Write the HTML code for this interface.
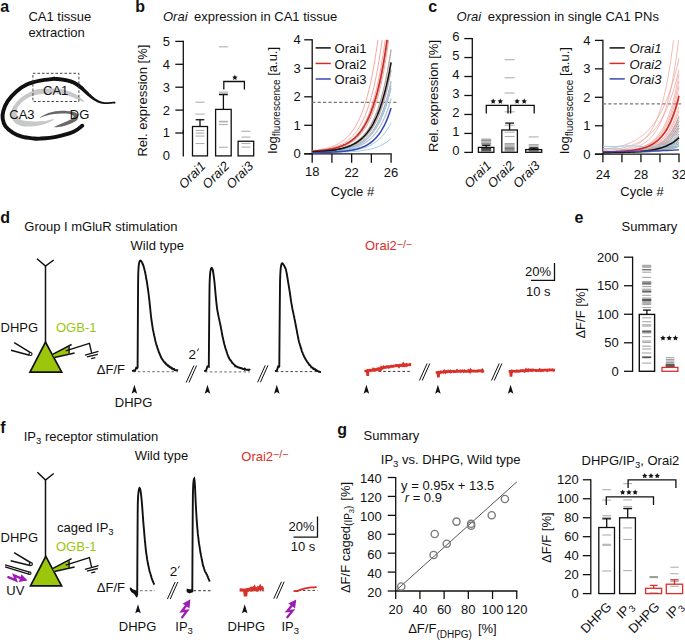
<!DOCTYPE html>
<html><head><meta charset="utf-8"><style>
html,body{margin:0;padding:0;background:#fff;}
svg{display:block;font-family:"Liberation Sans",sans-serif;}
</style></head><body>
<svg width="685" height="640" viewBox="0 0 685 640" font-size="13" fill="#111111" stroke-linecap="butt">
<text x="0.3" y="11.8" font-size="16" font-weight="bold">a</text>
<text x="28.4" y="21.3">CA1 tissue</text>
<text x="28.4" y="37.1">extraction</text>
<path d="M84.1,102 C85.28,101.78 80.02,96.93 77.1,95 C74.18,93.07 69.87,91.48 66.6,90.4 C63.33,89.32 61.93,88.75 57.5,88.5 C53.07,88.25 43.93,88.6 40,88.9 C36.07,89.2 36.82,89.05 33.9,90.3 C30.98,91.55 25.57,94.22 22.5,96.4 C19.43,98.58 17.25,101.22 15.5,103.4 C13.75,105.58 12.65,107.47 12,109.5 C11.35,111.53 11.3,113.55 11.6,115.6 C11.9,117.65 12.42,120.13 13.8,121.8 C15.18,123.47 17.57,124.8 19.9,125.6 C22.23,126.4 24.45,126.67 27.8,126.6 C31.15,126.53 36.5,125.9 40,125.2 C43.5,124.5 46.47,123.45 48.8,122.4 C51.13,121.35 54.73,119.12 54,118.9 C53.27,118.68 47.47,120.67 44.4,121.1 C41.33,121.53 38.52,121.5 35.6,121.5 C32.68,121.5 29.42,121.43 26.9,121.1 C24.38,120.77 22.15,120.52 20.5,119.5 C18.85,118.48 17.62,116.67 17,115 C16.38,113.33 16.17,111.43 16.8,109.5 C17.43,107.57 18.97,105.3 20.8,103.4 C22.63,101.5 25.62,99.42 27.8,98.1 C29.98,96.78 31.13,96.22 33.9,95.5 C36.67,94.78 40.47,94.08 44.4,93.8 C48.33,93.52 53.23,93.38 57.5,93.8 C61.77,94.22 65.57,94.93 70,96.3 C74.43,97.67 82.92,102.22 84.1,102 Z" stroke="none" stroke-width="0" fill="#c8c8c8"/>
<path d="M39.4,117.9 C39.23,117.68 42.9,115.48 45,114.5 C47.1,113.52 49.65,112.58 52,112 C54.35,111.42 56.6,111.17 59.1,111 C61.6,110.83 64.52,110.83 67,111 C69.48,111.17 72.25,111.45 74,112 C75.75,112.55 76.83,113.38 77.5,114.3 C78.17,115.22 78.17,116.47 78,117.5 C77.83,118.53 77.67,119.5 76.5,120.5 C75.33,121.5 73.08,122.58 71,123.5 C68.92,124.42 66.33,125.38 64,126 C61.67,126.62 58.62,127.03 57,127.2 C55.38,127.37 53.8,127.48 54.3,127 C54.8,126.52 57.88,125.25 60,124.3 C62.12,123.35 64.92,122.32 67,121.3 C69.08,120.28 71.42,119.08 72.5,118.2 C73.58,117.32 73.92,116.7 73.5,116 C73.08,115.3 71.92,114.43 70,114 C68.08,113.57 64.67,113.4 62,113.4 C59.33,113.4 56.67,113.6 54,114 C51.33,114.4 48.43,115.15 46,115.8 C43.57,116.45 39.57,118.12 39.4,117.9 Z" stroke="none" stroke-width="0" fill="#686868"/>
<path d="M82.3,125.7 C80.85,126.72 77.98,129.95 73.6,131.8 C69.22,133.65 61.6,135.67 56,136.8 C50.4,137.93 43.87,138.33 40,138.6 C36.13,138.87 35.82,138.72 32.8,138.4 C29.78,138.08 25.18,137.62 21.9,136.7 C18.62,135.78 15.83,134.62 13.1,132.9 C10.37,131.18 7.23,128.77 5.5,126.4 C3.77,124.03 3.07,121.25 2.7,118.7 C2.33,116.15 2.47,114.02 3.3,111.1 C4.13,108.18 5.52,104.48 7.7,101.2 C9.88,97.92 13.13,94.22 16.4,91.4 C19.67,88.58 23.37,86.1 27.3,84.3 C31.23,82.5 35.5,81.52 40,80.6 C44.5,79.68 51.92,79.1 54.3,78.8" stroke="#111111" stroke-width="3.9" fill="none" stroke-linecap="round"/>
<path d="M54.16,80.74 L55.17,80.82 L56.15,80.9 L57.1,80.98 L58.02,81.06 L58.92,81.15 L59.78,81.24 L60.62,81.34 L61.44,81.44 L62.23,81.54 L62.99,81.65 L63.73,81.77 L64.45,81.89 L65.15,82.02 L65.83,82.15 L66.49,82.29 L67.12,82.43 L67.75,82.59 L68.35,82.75 L68.94,82.92 L69.51,83.09 L70.07,83.27 L70.62,83.47 L71.15,83.67 L71.68,83.88 L72.19,84.1 L72.7,84.32 L73.2,84.56 L73.69,84.81 L74.18,85.08 L74.66,85.35 L75.15,85.63 L75.62,85.93 L76.1,86.24 L76.58,86.57 L77.06,86.91 L77.55,87.26 L78.03,87.63 L78.52,88.02 L79.01,88.42 L79.52,88.83 L80.04,89.24 L80.57,89.67 L81.11,90.12 L81.65,90.57 L82.2,91.04 L82.75,91.51 L83.3,92 L83.86,92.48 L84.41,92.97 L84.97,93.47 L85.53,93.96 L86.08,94.45 L86.64,94.93 L87.2,95.41 L87.75,95.89 L88.3,96.35 L88.84,96.8 L89.39,97.24 L89.93,97.67 L90.46,98.08 L90.99,98.48 L91.52,98.86 L92.03,99.22 L92.54,99.56 L93.04,99.9 L93.53,100.22 L94.02,100.52 L94.5,100.81 L94.97,101.08 L95.44,101.34 L95.91,101.59 L96.36,101.82 L96.82,102.03 L97.26,102.23 L97.7,102.42 L98.14,102.6 L98.57,102.76 L98.99,102.91 L99.41,103.05 L99.83,103.18 L100.23,103.29 L100.64,103.4 L101.04,103.49 L101.43,103.57 L101.82,103.65 L102.2,103.71 L102.58,103.77 L102.96,103.81 L103.34,103.85 L103.71,103.89 L104.07,103.93 L104.44,103.95 L104.8,103.98 L105.17,103.99 L105.53,104 L105.89,104 L106.25,104 L106.61,104 L106.97,103.99 L107.33,103.97 L107.69,103.95 L108.05,103.93 L108.41,103.91 L108.78,103.88 L109.15,103.85 L109.52,103.82 L109.89,103.79 L110.27,103.76 L110.65,103.73 L111.03,103.69 L111.42,103.66 L111.81,103.63 L112.21,103.6 L112.61,103.57 L113.02,103.54 L113.44,103.51 L113.86,103.49 L114.29,103.47 L114.73,103.45 L114.67,101.75 L114.22,101.77 L113.78,101.78 L113.34,101.81 L112.92,101.83 L112.5,101.85 L112.09,101.88 L111.68,101.91 L111.28,101.94 L110.89,101.97 L110.5,102 L110.13,102.03 L109.75,102.06 L109.38,102.08 L109.02,102.11 L108.66,102.13 L108.3,102.16 L107.95,102.18 L107.6,102.19 L107.26,102.21 L106.91,102.22 L106.58,102.23 L106.24,102.23 L105.9,102.23 L105.57,102.22 L105.24,102.21 L104.9,102.19 L104.57,102.17 L104.24,102.14 L103.91,102.1 L103.57,102.06 L103.24,101.99 L102.9,101.92 L102.57,101.85 L102.23,101.76 L101.89,101.67 L101.54,101.56 L101.2,101.45 L100.84,101.33 L100.49,101.2 L100.13,101.06 L99.76,100.9 L99.39,100.74 L99.01,100.57 L98.63,100.38 L98.25,100.18 L97.85,99.97 L97.45,99.75 L97.05,99.52 L96.64,99.27 L96.22,99 L95.8,98.73 L95.38,98.44 L94.94,98.13 L94.5,97.81 L94.06,97.47 L93.61,97.11 L93.16,96.74 L92.7,96.34 L92.24,95.93 L91.77,95.5 L91.29,95.06 L90.81,94.6 L90.31,94.12 L89.82,93.63 L89.32,93.13 L88.81,92.62 L88.3,92.1 L87.79,91.58 L87.27,91.05 L86.75,90.52 L86.23,89.98 L85.7,89.45 L85.18,88.92 L84.65,88.39 L84.13,87.87 L83.6,87.36 L83.08,86.85 L82.55,86.35 L82.03,85.87 L81.49,85.41 L80.96,84.97 L80.42,84.55 L79.88,84.14 L79.34,83.74 L78.8,83.36 L78.26,82.99 L77.72,82.64 L77.17,82.3 L76.62,81.97 L76.06,81.66 L75.49,81.36 L74.92,81.07 L74.35,80.79 L73.76,80.52 L73.16,80.27 L72.56,80.03 L71.95,79.8 L71.32,79.58 L70.69,79.37 L70.04,79.17 L69.38,78.99 L68.71,78.81 L68.03,78.64 L67.32,78.48 L66.61,78.33 L65.87,78.18 L65.12,78.05 L64.36,77.92 L63.57,77.8 L62.76,77.68 L61.93,77.57 L61.08,77.46 L60.21,77.36 L59.31,77.27 L58.39,77.18 L57.44,77.09 L56.47,77.01 L55.47,76.93 L54.44,76.86 Z" fill="#111111"/>
<circle cx="114.7" cy="102.6" r="0.85" fill="#111111"/>
<rect x="32.9" y="73.3" width="46" height="28.2" stroke="#333" stroke-width="0.9" fill="none" stroke-dasharray="2.6 1.9"/>
<text x="43" y="94.9">CA1</text>
<text x="9.3" y="118.9">CA3</text>
<text x="69.8" y="118.9">DG</text>
<text x="135.2" y="11.7" font-size="16" font-weight="bold">b</text>
<text x="163" y="21"><tspan font-style="italic">Orai</tspan><tspan dx="6.5">expression in CA1 tissue</tspan></text>
<line x1="183.3" y1="40.8" x2="183.3" y2="133.6" stroke="#111111" stroke-width="1.3"/>
<line x1="175.3" y1="133" x2="183.3" y2="133" stroke="#111111" stroke-width="1.3"/>
<text x="170" y="137.4" text-anchor="end">1</text>
<line x1="175.3" y1="110.1" x2="183.3" y2="110.1" stroke="#111111" stroke-width="1.3"/>
<text x="170" y="114.5" text-anchor="end">2</text>
<line x1="175.3" y1="87.2" x2="183.3" y2="87.2" stroke="#111111" stroke-width="1.3"/>
<text x="170" y="91.6" text-anchor="end">3</text>
<line x1="175.3" y1="64.3" x2="183.3" y2="64.3" stroke="#111111" stroke-width="1.3"/>
<text x="170" y="68.7" text-anchor="end">4</text>
<line x1="175.3" y1="41.4" x2="183.3" y2="41.4" stroke="#111111" stroke-width="1.3"/>
<text x="170" y="45.8" text-anchor="end">5</text>
<line x1="183.3" y1="130" x2="183.3" y2="156.4" stroke="#111111" stroke-width="1.3"/>
<text x="170" y="160.3" text-anchor="end">0</text>
<text transform="translate(146.6 100.6) rotate(-90)" text-anchor="middle">Rel. expression [%]</text>
<line x1="195.5" y1="102.25" x2="204.5" y2="102.25" stroke="#b0b0b0" stroke-width="1.1"/>
<line x1="195.5" y1="114.1" x2="204.5" y2="114.1" stroke="#b0b0b0" stroke-width="1.1"/>
<line x1="195.5" y1="130.4" x2="204.5" y2="130.4" stroke="#b0b0b0" stroke-width="1.1"/>
<line x1="195.5" y1="133.1" x2="204.5" y2="133.1" stroke="#b0b0b0" stroke-width="1.1"/>
<line x1="195.5" y1="136.1" x2="204.5" y2="136.1" stroke="#b0b0b0" stroke-width="1.1"/>
<line x1="195.5" y1="143.5" x2="204.5" y2="143.5" stroke="#b0b0b0" stroke-width="1.1"/>
<line x1="218.9" y1="46.8" x2="227.9" y2="46.8" stroke="#b0b0b0" stroke-width="1.1"/>
<line x1="218.9" y1="92.1" x2="227.9" y2="92.1" stroke="#b0b0b0" stroke-width="1.1"/>
<line x1="218.9" y1="93.3" x2="227.9" y2="93.3" stroke="#b0b0b0" stroke-width="1.1"/>
<line x1="218.9" y1="121.3" x2="227.9" y2="121.3" stroke="#b0b0b0" stroke-width="1.1"/>
<line x1="218.9" y1="121.9" x2="227.9" y2="121.9" stroke="#b0b0b0" stroke-width="1.1"/>
<line x1="218.9" y1="124.5" x2="227.9" y2="124.5" stroke="#b0b0b0" stroke-width="1.1"/>
<line x1="218.9" y1="147.25" x2="227.9" y2="147.25" stroke="#b0b0b0" stroke-width="1.1"/>
<line x1="241.4" y1="131.25" x2="250.4" y2="131.25" stroke="#b0b0b0" stroke-width="1.1"/>
<line x1="241.4" y1="137.1" x2="250.4" y2="137.1" stroke="#b0b0b0" stroke-width="1.1"/>
<line x1="241.4" y1="143.5" x2="250.4" y2="143.5" stroke="#b0b0b0" stroke-width="1.1"/>
<line x1="241.4" y1="147.1" x2="250.4" y2="147.1" stroke="#b0b0b0" stroke-width="1.1"/>
<rect x="192.5" y="126.5" width="15" height="29.4" stroke="#111111" stroke-width="1.3" fill="none"/>
<line x1="200" y1="126.5" x2="200" y2="119.75" stroke="#111111" stroke-width="1.3"/>
<line x1="195.6" y1="119.75" x2="204.4" y2="119.75" stroke="#111111" stroke-width="1.3"/>
<rect x="215.6" y="109.4" width="15.6" height="46.5" stroke="#111111" stroke-width="1.3" fill="none"/>
<line x1="223.4" y1="109.4" x2="223.4" y2="94.6" stroke="#111111" stroke-width="1.3"/>
<line x1="219" y1="94.6" x2="227.8" y2="94.6" stroke="#111111" stroke-width="1.3"/>
<rect x="238.1" y="141.25" width="15.6" height="14.65" stroke="#111111" stroke-width="1.3" fill="none"/>
<path d="M223.8 89.4 L223.8 81.5 L244.4 81.5 L244.4 89.4" stroke="#111111" stroke-width="1.3" fill="none"/>
<path d="M234.9 74.7 L235.72 76.47 L237.66 76.7 L236.22 78.03 L236.6 79.95 L234.9 78.99 L233.2 79.95 L233.58 78.03 L232.14 76.7 L234.08 76.47 Z" fill="#111111"/>
<text transform="translate(206.4 167) rotate(-45)" text-anchor="end" font-style="italic">Orai1</text>
<text transform="translate(230 167) rotate(-45)" text-anchor="end" font-style="italic">Orai2</text>
<text transform="translate(254.1 167) rotate(-45)" text-anchor="end" font-style="italic">Orai3</text>
<line x1="312.2" y1="39.2" x2="312.2" y2="154.4" stroke="#111111" stroke-width="1.3"/>
<line x1="304.2" y1="153.8" x2="312.2" y2="153.8" stroke="#111111" stroke-width="1.3"/>
<text x="300.7" y="158.2" text-anchor="end">0</text>
<line x1="304.2" y1="125.3" x2="312.2" y2="125.3" stroke="#111111" stroke-width="1.3"/>
<text x="300.7" y="129.7" text-anchor="end">1</text>
<line x1="304.2" y1="96.8" x2="312.2" y2="96.8" stroke="#111111" stroke-width="1.3"/>
<text x="300.7" y="101.2" text-anchor="end">2</text>
<line x1="304.2" y1="68.3" x2="312.2" y2="68.3" stroke="#111111" stroke-width="1.3"/>
<text x="300.7" y="72.7" text-anchor="end">3</text>
<line x1="304.2" y1="39.8" x2="312.2" y2="39.8" stroke="#111111" stroke-width="1.3"/>
<text x="300.7" y="44.2" text-anchor="end">4</text>
<line x1="304.2" y1="153.8" x2="391.68" y2="153.8" stroke="#111111" stroke-width="1.3"/>
<line x1="312.2" y1="153.8" x2="312.2" y2="162.8" stroke="#111111" stroke-width="1.3"/>
<line x1="331.92" y1="153.8" x2="331.92" y2="162.8" stroke="#111111" stroke-width="1.3"/>
<line x1="351.64" y1="153.8" x2="351.64" y2="162.8" stroke="#111111" stroke-width="1.3"/>
<line x1="371.36" y1="153.8" x2="371.36" y2="162.8" stroke="#111111" stroke-width="1.3"/>
<line x1="391.08" y1="153.8" x2="391.08" y2="162.8" stroke="#111111" stroke-width="1.3"/>
<text x="312.2" y="176.1" text-anchor="middle">18</text>
<text x="351.64" y="177.4" text-anchor="middle">22</text>
<text x="391.08" y="177.4" text-anchor="middle">26</text>
<text x="352.5" y="196.4" text-anchor="middle">Cycle #</text>
<text transform="translate(276.9 100.2) rotate(-90)" text-anchor="middle">log<tspan font-size="10" dy="3.4">fluorescence</tspan><tspan dy="-3.4"> [a.u.]</tspan></text>
<line x1="312.2" y1="102.4" x2="397" y2="102.4" stroke="#777" stroke-width="1.1" stroke-dasharray="3.2 2.2"/>
<path d="M312.2 150.61 L313.2 150.51 L314.2 150.4 L315.2 150.29 L316.19 150.17 L317.19 150.04 L318.19 149.9 L319.19 149.75 L320.19 149.59 L321.19 149.42 L322.18 149.24 L323.18 149.04 L324.18 148.83 L325.18 148.61 L326.18 148.38 L327.18 148.12 L328.18 147.85 L329.17 147.57 L330.17 147.26 L331.17 146.93 L332.17 146.58 L333.17 146.2 L334.17 145.8 L335.17 145.37 L336.16 144.92 L337.16 144.43 L338.16 143.91 L339.16 143.35 L340.16 142.76 L341.16 142.12 L342.15 141.44 L343.15 140.72 L344.15 139.94 L345.15 139.12 L346.15 138.24 L347.15 137.29 L348.15 136.29 L349.14 135.21 L350.14 134.06 L351.14 132.84 L352.14 131.53 L353.14 130.13 L354.14 128.63 L355.13 127.04 L356.13 125.33 L357.13 123.51 L358.13 121.57 L359.13 119.49 L360.13 117.27 L361.13 114.9 L362.12 112.37 L363.12 109.67 L364.12 106.79 L365.12 103.7 L366.12 100.41 L367.12 96.9 L368.11 93.14 L369.11 89.13 L370.11 84.85 L371.11 80.27 L372.11 75.38 L373.11 70.17 L374.11 64.59 L375.1 58.64 L376.1 52.28 L377.1 45.49 L377.89 39.8" stroke="#f3aaa5" stroke-width="1" fill="none"/>
<path d="M312.2 150.97 L313.2 150.9 L314.2 150.82 L315.2 150.73 L316.19 150.64 L317.19 150.54 L318.19 150.43 L319.19 150.32 L320.19 150.2 L321.19 150.07 L322.18 149.93 L323.18 149.79 L324.18 149.63 L325.18 149.46 L326.18 149.28 L327.18 149.09 L328.18 148.89 L329.17 148.67 L330.17 148.44 L331.17 148.19 L332.17 147.93 L333.17 147.64 L334.17 147.34 L335.17 147.02 L336.16 146.67 L337.16 146.3 L338.16 145.91 L339.16 145.49 L340.16 145.04 L341.16 144.56 L342.15 144.05 L343.15 143.5 L344.15 142.92 L345.15 142.29 L346.15 141.63 L347.15 140.91 L348.15 140.15 L349.14 139.34 L350.14 138.47 L351.14 137.55 L352.14 136.56 L353.14 135.5 L354.14 134.37 L355.13 133.17 L356.13 131.88 L357.13 130.5 L358.13 129.04 L359.13 127.47 L360.13 125.79 L361.13 124 L362.12 122.09 L363.12 120.05 L364.12 117.87 L365.12 115.54 L366.12 113.06 L367.12 110.4 L368.11 107.56 L369.11 104.53 L370.11 101.3 L371.11 97.84 L372.11 94.15 L373.11 90.21 L374.11 86 L375.1 81.5 L376.1 76.7 L377.1 71.57 L378.1 66.09 L379.1 60.24 L380.1 53.99 L381.1 47.32 L382.09 40.19 L382.15 39.8" stroke="#f3aaa5" stroke-width="1" fill="none"/>
<path d="M312.2 151.18 L313.2 151.12 L314.2 151.05 L315.2 150.98 L316.19 150.9 L317.19 150.82 L318.19 150.74 L319.19 150.64 L320.19 150.55 L321.19 150.44 L322.18 150.33 L323.18 150.21 L324.18 150.08 L325.18 149.94 L326.18 149.8 L327.18 149.64 L328.18 149.48 L329.17 149.3 L330.17 149.11 L331.17 148.91 L332.17 148.69 L333.17 148.46 L334.17 148.21 L335.17 147.95 L336.16 147.66 L337.16 147.36 L338.16 147.04 L339.16 146.7 L340.16 146.33 L341.16 145.94 L342.15 145.52 L343.15 145.07 L344.15 144.6 L345.15 144.09 L346.15 143.54 L347.15 142.96 L348.15 142.34 L349.14 141.68 L350.14 140.97 L351.14 140.21 L352.14 139.4 L353.14 138.54 L354.14 137.62 L355.13 136.63 L356.13 135.58 L357.13 134.46 L358.13 133.26 L359.13 131.98 L360.13 130.61 L361.13 129.15 L362.12 127.58 L363.12 125.92 L364.12 124.14 L365.12 122.23 L366.12 120.2 L367.12 118.03 L368.11 115.72 L369.11 113.24 L370.11 110.6 L371.11 107.78 L372.11 104.76 L373.11 101.54 L374.11 98.1 L375.1 94.43 L376.1 90.5 L377.1 86.31 L378.1 81.84 L379.1 77.06 L380.1 71.96 L381.1 66.5 L382.09 60.68 L383.09 54.46 L384.09 47.82 L385.09 40.72 L385.21 39.8" stroke="#f3aaa5" stroke-width="1" fill="none"/>
<path d="M312.2 151.37 L313.2 151.32 L314.2 151.27 L315.2 151.21 L316.19 151.15 L317.19 151.08 L318.19 151.02 L319.19 150.94 L320.19 150.87 L321.19 150.78 L322.18 150.69 L323.18 150.6 L324.18 150.5 L325.18 150.39 L326.18 150.27 L327.18 150.15 L328.18 150.02 L329.17 149.88 L330.17 149.73 L331.17 149.56 L332.17 149.39 L333.17 149.21 L334.17 149.01 L335.17 148.8 L336.16 148.58 L337.16 148.34 L338.16 148.09 L339.16 147.81 L340.16 147.52 L341.16 147.21 L342.15 146.88 L343.15 146.53 L344.15 146.15 L345.15 145.74 L346.15 145.31 L347.15 144.85 L348.15 144.36 L349.14 143.83 L350.14 143.27 L351.14 142.67 L352.14 142.03 L353.14 141.34 L354.14 140.61 L355.13 139.83 L356.13 139 L357.13 138.1 L358.13 137.15 L359.13 136.14 L360.13 135.05 L361.13 133.89 L362.12 132.65 L363.12 131.33 L364.12 129.92 L365.12 128.41 L366.12 126.8 L367.12 125.08 L368.11 123.24 L369.11 121.28 L370.11 119.18 L371.11 116.94 L372.11 114.55 L373.11 112 L374.11 109.27 L375.1 106.36 L376.1 103.25 L377.1 99.92 L378.1 96.37 L379.1 92.58 L380.1 88.53 L381.1 84.21 L382.09 79.59 L383.09 74.66 L384.09 69.39 L385.09 63.76 L386.09 57.76 L387.09 51.34 L388.08 44.48 L388.73 39.8" stroke="#f3aaa5" stroke-width="1" fill="none"/>
<path d="M312.2 151.52 L313.2 151.49 L314.2 151.44 L315.2 151.4 L316.19 151.35 L317.19 151.3 L318.19 151.25 L319.19 151.19 L320.19 151.13 L321.19 151.07 L322.18 151 L323.18 150.92 L324.18 150.84 L325.18 150.76 L326.18 150.67 L327.18 150.57 L328.18 150.47 L329.17 150.36 L330.17 150.24 L331.17 150.11 L332.17 149.98 L333.17 149.84 L334.17 149.68 L335.17 149.52 L336.16 149.34 L337.16 149.16 L338.16 148.96 L339.16 148.74 L340.16 148.52 L341.16 148.27 L342.15 148.01 L343.15 147.73 L344.15 147.44 L345.15 147.12 L346.15 146.78 L347.15 146.42 L348.15 146.04 L349.14 145.63 L350.14 145.19 L351.14 144.72 L352.14 144.21 L353.14 143.68 L354.14 143.11 L355.13 142.5 L356.13 141.84 L357.13 141.15 L358.13 140.4 L359.13 139.61 L360.13 138.76 L361.13 137.85 L362.12 136.88 L363.12 135.84 L364.12 134.74 L365.12 133.56 L366.12 132.3 L367.12 130.95 L368.11 129.51 L369.11 127.98 L370.11 126.34 L371.11 124.58 L372.11 122.71 L373.11 120.71 L374.11 118.58 L375.1 116.3 L376.1 113.86 L377.1 111.26 L378.1 108.49 L379.1 105.52 L380.1 102.35 L381.1 98.97 L382.09 95.35 L383.09 91.49 L384.09 87.37 L385.09 82.97 L386.09 78.26 L387.09 73.24 L388.08 67.88 L389.08 62.15 L390.08 56.03 L391.08 49.49" stroke="#f3aaa5" stroke-width="1" fill="none"/>
<path d="M312.2 151.64 L313.2 151.61 L314.2 151.58 L315.2 151.54 L316.19 151.51 L317.19 151.47 L318.19 151.42 L319.19 151.38 L320.19 151.33 L321.19 151.28 L322.18 151.22 L323.18 151.17 L324.18 151.1 L325.18 151.04 L326.18 150.96 L327.18 150.89 L328.18 150.81 L329.17 150.72 L330.17 150.62 L331.17 150.53 L332.17 150.42 L333.17 150.3 L334.17 150.18 L335.17 150.05 L336.16 149.92 L337.16 149.77 L338.16 149.61 L339.16 149.44 L340.16 149.26 L341.16 149.07 L342.15 148.86 L343.15 148.64 L344.15 148.41 L345.15 148.16 L346.15 147.89 L347.15 147.6 L348.15 147.3 L349.14 146.97 L350.14 146.62 L351.14 146.25 L352.14 145.86 L353.14 145.43 L354.14 144.98 L355.13 144.49 L356.13 143.98 L357.13 143.43 L358.13 142.84 L359.13 142.21 L360.13 141.53 L361.13 140.82 L362.12 140.05 L363.12 139.23 L364.12 138.35 L365.12 137.42 L366.12 136.42 L367.12 135.36 L368.11 134.22 L369.11 133 L370.11 131.7 L371.11 130.31 L372.11 128.83 L373.11 127.25 L374.11 125.56 L375.1 123.76 L376.1 121.83 L377.1 119.77 L378.1 117.57 L379.1 115.22 L380.1 112.71 L381.1 110.03 L382.09 107.17 L383.09 104.12 L384.09 100.85 L385.09 97.37 L386.09 93.64 L387.09 89.67 L388.08 85.42 L389.08 80.88 L390.08 76.04 L391.08 70.87" stroke="#f3aaa5" stroke-width="1" fill="none"/>
<path d="M312.2 151.8 L313.2 151.78 L314.2 151.75 L315.2 151.73 L316.19 151.71 L317.19 151.68 L318.19 151.65 L319.19 151.62 L320.19 151.59 L321.19 151.56 L322.18 151.52 L323.18 151.48 L324.18 151.44 L325.18 151.4 L326.18 151.35 L327.18 151.3 L328.18 151.25 L329.17 151.19 L330.17 151.13 L331.17 151.06 L332.17 150.99 L333.17 150.92 L334.17 150.84 L335.17 150.75 L336.16 150.66 L337.16 150.57 L338.16 150.46 L339.16 150.35 L340.16 150.23 L341.16 150.11 L342.15 149.97 L343.15 149.83 L344.15 149.67 L345.15 149.51 L346.15 149.33 L347.15 149.15 L348.15 148.95 L349.14 148.73 L350.14 148.5 L351.14 148.26 L352.14 148 L353.14 147.72 L354.14 147.42 L355.13 147.11 L356.13 146.77 L357.13 146.4 L358.13 146.02 L359.13 145.6 L360.13 145.16 L361.13 144.69 L362.12 144.19 L363.12 143.65 L364.12 143.08 L365.12 142.46 L366.12 141.81 L367.12 141.11 L368.11 140.36 L369.11 139.56 L370.11 138.71 L371.11 137.8 L372.11 136.83 L373.11 135.79 L374.11 134.68 L375.1 133.5 L376.1 132.23 L377.1 130.88 L378.1 129.44 L379.1 127.9 L380.1 126.25 L381.1 124.5 L382.09 122.62 L383.09 120.61 L384.09 118.47 L385.09 116.18 L386.09 113.74 L387.09 111.13 L388.08 108.35 L389.08 105.37 L390.08 102.19 L391.08 98.8" stroke="#f3aaa5" stroke-width="1" fill="none"/>
<path d="M312.2 151.54 L313.2 151.48 L314.2 151.42 L315.2 151.36 L316.19 151.29 L317.19 151.22 L318.19 151.14 L319.19 151.06 L320.19 150.97 L321.19 150.88 L322.18 150.78 L323.18 150.67 L324.18 150.56 L325.18 150.44 L326.18 150.31 L327.18 150.17 L328.18 150.02 L329.17 149.86 L330.17 149.7 L331.17 149.52 L332.17 149.32 L333.17 149.12 L334.17 148.9 L335.17 148.67 L336.16 148.42 L337.16 148.16 L338.16 147.87 L339.16 147.57 L340.16 147.25 L341.16 146.91 L342.15 146.54 L343.15 146.15 L344.15 145.74 L345.15 145.29 L346.15 144.82 L347.15 144.31 L348.15 143.77 L349.14 143.19 L350.14 142.58 L351.14 141.92 L352.14 141.22 L353.14 140.48 L354.14 139.68 L355.13 138.83 L356.13 137.92 L357.13 136.96 L358.13 135.92 L359.13 134.82 L360.13 133.65 L361.13 132.39 L362.12 131.05 L363.12 129.63 L364.12 128.1 L365.12 126.48 L366.12 124.75 L367.12 122.9 L368.11 120.92 L369.11 118.82 L370.11 116.57 L371.11 114.17 L372.11 111.61 L373.11 108.88 L374.11 105.97 L375.1 102.86 L376.1 99.55 L377.1 96.01 L378.1 92.24 L379.1 88.21 L380.1 83.92 L381.1 79.33 L382.09 74.44 L383.09 69.22 L384.09 63.66 L385.09 57.72 L386.09 51.38 L387.09 44.62 L387.76 39.8" stroke="#a8a8a8" stroke-width="1" fill="none"/>
<path d="M312.2 151.76 L313.2 151.72 L314.2 151.68 L315.2 151.63 L316.19 151.58 L317.19 151.53 L318.19 151.47 L319.19 151.41 L320.19 151.35 L321.19 151.28 L322.18 151.2 L323.18 151.12 L324.18 151.04 L325.18 150.95 L326.18 150.86 L327.18 150.75 L328.18 150.65 L329.17 150.53 L330.17 150.41 L331.17 150.27 L332.17 150.13 L333.17 149.98 L334.17 149.82 L335.17 149.65 L336.16 149.47 L337.16 149.28 L338.16 149.07 L339.16 148.85 L340.16 148.61 L341.16 148.36 L342.15 148.09 L343.15 147.8 L344.15 147.5 L345.15 147.17 L346.15 146.82 L347.15 146.45 L348.15 146.05 L349.14 145.63 L350.14 145.18 L351.14 144.7 L352.14 144.18 L353.14 143.63 L354.14 143.05 L355.13 142.42 L356.13 141.76 L357.13 141.05 L358.13 140.29 L359.13 139.48 L360.13 138.62 L361.13 137.69 L362.12 136.71 L363.12 135.66 L364.12 134.54 L365.12 133.35 L366.12 132.08 L367.12 130.72 L368.11 129.27 L369.11 127.72 L370.11 126.07 L371.11 124.31 L372.11 122.43 L373.11 120.42 L374.11 118.28 L375.1 116 L376.1 113.56 L377.1 110.97 L378.1 108.19 L379.1 105.24 L380.1 102.08 L381.1 98.71 L382.09 95.12 L383.09 91.28 L384.09 87.19 L385.09 82.83 L386.09 78.17 L387.09 73.21 L388.08 67.9 L389.08 62.25 L390.08 56.21 L391.08 49.78" stroke="#a8a8a8" stroke-width="1" fill="none"/>
<path d="M312.2 151.88 L313.2 151.85 L314.2 151.81 L315.2 151.78 L316.19 151.73 L317.19 151.69 L318.19 151.65 L319.19 151.6 L320.19 151.55 L321.19 151.49 L322.18 151.43 L323.18 151.37 L324.18 151.3 L325.18 151.23 L326.18 151.15 L327.18 151.07 L328.18 150.98 L329.17 150.89 L330.17 150.79 L331.17 150.68 L332.17 150.57 L333.17 150.45 L334.17 150.32 L335.17 150.18 L336.16 150.04 L337.16 149.88 L338.16 149.71 L339.16 149.53 L340.16 149.34 L341.16 149.14 L342.15 148.92 L343.15 148.69 L344.15 148.45 L345.15 148.18 L346.15 147.9 L347.15 147.6 L348.15 147.28 L349.14 146.94 L350.14 146.58 L351.14 146.19 L352.14 145.78 L353.14 145.33 L354.14 144.86 L355.13 144.36 L356.13 143.82 L357.13 143.25 L358.13 142.64 L359.13 141.99 L360.13 141.29 L361.13 140.55 L362.12 139.76 L363.12 138.91 L364.12 138.01 L365.12 137.05 L366.12 136.02 L367.12 134.93 L368.11 133.76 L369.11 132.51 L370.11 131.18 L371.11 129.76 L372.11 128.25 L373.11 126.64 L374.11 124.91 L375.1 123.07 L376.1 121.11 L377.1 119.02 L378.1 116.78 L379.1 114.4 L380.1 111.86 L381.1 109.15 L382.09 106.25 L383.09 103.16 L384.09 99.87 L385.09 96.35 L386.09 92.6 L387.09 88.6 L388.08 84.33 L389.08 79.77 L390.08 74.91 L391.08 69.73" stroke="#a8a8a8" stroke-width="1" fill="none"/>
<path d="M312.2 151.95 L313.2 151.92 L314.2 151.89 L315.2 151.86 L316.19 151.82 L317.19 151.79 L318.19 151.75 L319.19 151.7 L320.19 151.66 L321.19 151.61 L322.18 151.56 L323.18 151.51 L324.18 151.45 L325.18 151.39 L326.18 151.32 L327.18 151.25 L328.18 151.17 L329.17 151.09 L330.17 151.01 L331.17 150.92 L332.17 150.82 L333.17 150.71 L334.17 150.6 L335.17 150.48 L336.16 150.36 L337.16 150.22 L338.16 150.08 L339.16 149.93 L340.16 149.76 L341.16 149.59 L342.15 149.4 L343.15 149.2 L344.15 148.99 L345.15 148.76 L346.15 148.52 L347.15 148.26 L348.15 147.98 L349.14 147.69 L350.14 147.38 L351.14 147.04 L352.14 146.69 L353.14 146.3 L354.14 145.9 L355.13 145.46 L356.13 145 L357.13 144.51 L358.13 143.98 L359.13 143.42 L360.13 142.82 L361.13 142.18 L362.12 141.5 L363.12 140.77 L364.12 139.99 L365.12 139.16 L366.12 138.28 L367.12 137.33 L368.11 136.33 L369.11 135.25 L370.11 134.11 L371.11 132.88 L372.11 131.58 L373.11 130.19 L374.11 128.7 L375.1 127.11 L376.1 125.42 L377.1 123.62 L378.1 121.69 L379.1 119.64 L380.1 117.45 L381.1 115.11 L382.09 112.61 L383.09 109.95 L384.09 107.11 L385.09 104.08 L386.09 100.85 L387.09 97.4 L388.08 93.71 L389.08 89.79 L390.08 85.6 L391.08 81.13" stroke="#a8a8a8" stroke-width="1" fill="none"/>
<path d="M312.2 151.99 L313.2 151.97 L314.2 151.94 L315.2 151.91 L316.19 151.88 L317.19 151.85 L318.19 151.81 L319.19 151.77 L320.19 151.73 L321.19 151.69 L322.18 151.64 L323.18 151.59 L324.18 151.54 L325.18 151.49 L326.18 151.43 L327.18 151.36 L328.18 151.29 L329.17 151.22 L330.17 151.14 L331.17 151.06 L332.17 150.97 L333.17 150.88 L334.17 150.78 L335.17 150.67 L336.16 150.56 L337.16 150.44 L338.16 150.31 L339.16 150.17 L340.16 150.02 L341.16 149.86 L342.15 149.7 L343.15 149.52 L344.15 149.33 L345.15 149.12 L346.15 148.9 L347.15 148.67 L348.15 148.42 L349.14 148.16 L350.14 147.88 L351.14 147.58 L352.14 147.25 L353.14 146.91 L354.14 146.55 L355.13 146.16 L356.13 145.74 L357.13 145.29 L358.13 144.82 L359.13 144.32 L360.13 143.78 L361.13 143.2 L362.12 142.59 L363.12 141.93 L364.12 141.23 L365.12 140.48 L366.12 139.69 L367.12 138.84 L368.11 137.93 L369.11 136.97 L370.11 135.93 L371.11 134.83 L372.11 133.66 L373.11 132.4 L374.11 131.07 L375.1 129.64 L376.1 128.12 L377.1 126.49 L378.1 124.76 L379.1 122.91 L380.1 120.94 L381.1 118.84 L382.09 116.59 L383.09 114.19 L384.09 111.64 L385.09 108.91 L386.09 106 L387.09 102.89 L388.08 99.58 L389.08 96.05 L390.08 92.27 L391.08 88.25" stroke="#a8a8a8" stroke-width="1" fill="none"/>
<path d="M312.2 152.3 L313.2 152.28 L314.2 152.25 L315.2 152.23 L316.19 152.2 L317.19 152.16 L318.19 152.13 L319.19 152.09 L320.19 152.05 L321.19 152.01 L322.18 151.97 L323.18 151.92 L324.18 151.87 L325.18 151.81 L326.18 151.75 L327.18 151.69 L328.18 151.62 L329.17 151.55 L330.17 151.48 L331.17 151.39 L332.17 151.31 L333.17 151.21 L334.17 151.11 L335.17 151.01 L336.16 150.89 L337.16 150.77 L338.16 150.64 L339.16 150.5 L340.16 150.35 L341.16 150.19 L342.15 150.02 L343.15 149.84 L344.15 149.64 L345.15 149.43 L346.15 149.21 L347.15 148.97 L348.15 148.72 L349.14 148.44 L350.14 148.15 L351.14 147.84 L352.14 147.51 L353.14 147.15 L354.14 146.77 L355.13 146.36 L356.13 145.93 L357.13 145.46 L358.13 144.97 L359.13 144.43 L360.13 143.87 L361.13 143.26 L362.12 142.61 L363.12 141.91 L364.12 141.17 L365.12 140.38 L366.12 139.53 L367.12 138.62 L368.11 137.65 L369.11 136.61 L370.11 135.5 L371.11 134.32 L372.11 133.05 L373.11 131.69 L374.11 130.24 L375.1 128.69 L376.1 127.04 L377.1 125.27 L378.1 123.37 L379.1 121.35 L380.1 119.18 L381.1 116.87 L382.09 114.4 L383.09 111.75 L384.09 108.93 L385.09 105.9 L386.09 102.67 L387.09 99.22 L388.08 95.52 L389.08 91.57 L390.08 87.35 L391.08 82.84" stroke="#9ccbe8" stroke-width="1" fill="none"/>
<path d="M312.2 152.32 L313.2 152.3 L314.2 152.27 L315.2 152.24 L316.19 152.21 L317.19 152.18 L318.19 152.15 L319.19 152.12 L320.19 152.08 L321.19 152.04 L322.18 151.99 L323.18 151.95 L324.18 151.9 L325.18 151.85 L326.18 151.79 L327.18 151.73 L328.18 151.67 L329.17 151.6 L330.17 151.52 L331.17 151.45 L332.17 151.36 L333.17 151.27 L334.17 151.18 L335.17 151.07 L336.16 150.96 L337.16 150.85 L338.16 150.72 L339.16 150.59 L340.16 150.44 L341.16 150.29 L342.15 150.13 L343.15 149.95 L344.15 149.76 L345.15 149.56 L346.15 149.35 L347.15 149.12 L348.15 148.88 L349.14 148.62 L350.14 148.34 L351.14 148.04 L352.14 147.72 L353.14 147.38 L354.14 147.01 L355.13 146.62 L356.13 146.2 L357.13 145.76 L358.13 145.28 L359.13 144.77 L360.13 144.22 L361.13 143.64 L362.12 143.02 L363.12 142.35 L364.12 141.64 L365.12 140.88 L366.12 140.06 L367.12 139.19 L368.11 138.26 L369.11 137.27 L370.11 136.2 L371.11 135.07 L372.11 133.85 L373.11 132.55 L374.11 131.16 L375.1 129.67 L376.1 128.08 L377.1 126.38 L378.1 124.57 L379.1 122.63 L380.1 120.55 L381.1 118.33 L382.09 115.96 L383.09 113.42 L384.09 110.71 L385.09 107.81 L386.09 104.71 L387.09 101.4 L388.08 97.85 L389.08 94.07 L390.08 90.01 L391.08 85.69" stroke="#9ccbe8" stroke-width="1" fill="none"/>
<path d="M312.2 152.38 L313.2 152.37 L314.2 152.34 L315.2 152.32 L316.19 152.3 L317.19 152.27 L318.19 152.25 L319.19 152.22 L320.19 152.19 L321.19 152.16 L322.18 152.12 L323.18 152.08 L324.18 152.05 L325.18 152 L326.18 151.96 L327.18 151.91 L328.18 151.86 L329.17 151.8 L330.17 151.74 L331.17 151.68 L332.17 151.61 L333.17 151.54 L334.17 151.46 L335.17 151.38 L336.16 151.29 L337.16 151.19 L338.16 151.09 L339.16 150.98 L340.16 150.87 L341.16 150.74 L342.15 150.61 L343.15 150.47 L344.15 150.32 L345.15 150.16 L346.15 149.98 L347.15 149.8 L348.15 149.6 L349.14 149.39 L350.14 149.16 L351.14 148.92 L352.14 148.66 L353.14 148.39 L354.14 148.09 L355.13 147.78 L356.13 147.44 L357.13 147.08 L358.13 146.69 L359.13 146.28 L360.13 145.84 L361.13 145.37 L362.12 144.86 L363.12 144.33 L364.12 143.75 L365.12 143.13 L366.12 142.48 L367.12 141.77 L368.11 141.02 L369.11 140.21 L370.11 139.35 L371.11 138.43 L372.11 137.45 L373.11 136.4 L374.11 135.28 L375.1 134.07 L376.1 132.79 L377.1 131.42 L378.1 129.95 L379.1 128.38 L380.1 126.7 L381.1 124.91 L382.09 122.99 L383.09 120.94 L384.09 118.74 L385.09 116.4 L386.09 113.89 L387.09 111.21 L388.08 108.35 L389.08 105.29 L390.08 102.01 L391.08 98.51" stroke="#9ccbe8" stroke-width="1" fill="none"/>
<path d="M312.2 152.51 L313.2 152.5 L314.2 152.49 L315.2 152.47 L316.19 152.46 L317.19 152.45 L318.19 152.43 L319.19 152.42 L320.19 152.4 L321.19 152.38 L322.18 152.36 L323.18 152.34 L324.18 152.32 L325.18 152.3 L326.18 152.27 L327.18 152.24 L328.18 152.22 L329.17 152.19 L330.17 152.15 L331.17 152.12 L332.17 152.08 L333.17 152.04 L334.17 152 L335.17 151.95 L336.16 151.9 L337.16 151.85 L338.16 151.79 L339.16 151.73 L340.16 151.67 L341.16 151.6 L342.15 151.53 L343.15 151.45 L344.15 151.37 L345.15 151.28 L346.15 151.18 L347.15 151.08 L348.15 150.97 L349.14 150.85 L350.14 150.73 L351.14 150.59 L352.14 150.45 L353.14 150.3 L354.14 150.14 L355.13 149.96 L356.13 149.78 L357.13 149.58 L358.13 149.36 L359.13 149.13 L360.13 148.89 L361.13 148.63 L362.12 148.35 L363.12 148.05 L364.12 147.74 L365.12 147.4 L366.12 147.03 L367.12 146.64 L368.11 146.23 L369.11 145.78 L370.11 145.31 L371.11 144.8 L372.11 144.26 L373.11 143.67 L374.11 143.05 L375.1 142.39 L376.1 141.68 L377.1 140.92 L378.1 140.11 L379.1 139.24 L380.1 138.31 L381.1 137.32 L382.09 136.26 L383.09 135.13 L384.09 133.92 L385.09 132.62 L386.09 131.24 L387.09 129.76 L388.08 128.17 L389.08 126.48 L390.08 124.67 L391.08 122.74" stroke="#9ccbe8" stroke-width="1" fill="none"/>
<path d="M312.2 152.59 L313.2 152.58 L314.2 152.58 L315.2 152.57 L316.19 152.57 L317.19 152.56 L318.19 152.55 L319.19 152.54 L320.19 152.54 L321.19 152.53 L322.18 152.52 L323.18 152.51 L324.18 152.5 L325.18 152.49 L326.18 152.48 L327.18 152.46 L328.18 152.45 L329.17 152.43 L330.17 152.42 L331.17 152.4 L332.17 152.38 L333.17 152.36 L334.17 152.34 L335.17 152.32 L336.16 152.3 L337.16 152.27 L338.16 152.25 L339.16 152.22 L340.16 152.19 L341.16 152.16 L342.15 152.12 L343.15 152.08 L344.15 152.04 L345.15 152 L346.15 151.96 L347.15 151.91 L348.15 151.86 L349.14 151.8 L350.14 151.74 L351.14 151.68 L352.14 151.61 L353.14 151.54 L354.14 151.46 L355.13 151.38 L356.13 151.29 L357.13 151.19 L358.13 151.09 L359.13 150.98 L360.13 150.87 L361.13 150.74 L362.12 150.61 L363.12 150.47 L364.12 150.32 L365.12 150.15 L366.12 149.98 L367.12 149.79 L368.11 149.6 L369.11 149.38 L370.11 149.16 L371.11 148.92 L372.11 148.66 L373.11 148.38 L374.11 148.09 L375.1 147.77 L376.1 147.43 L377.1 147.07 L378.1 146.68 L379.1 146.27 L380.1 145.83 L381.1 145.36 L382.09 144.85 L383.09 144.31 L384.09 143.73 L385.09 143.12 L386.09 142.46 L387.09 141.75 L388.08 141 L389.08 140.19 L390.08 139.33 L391.08 138.41" stroke="#9ccbe8" stroke-width="1" fill="none"/>
<path d="M312.2 151.15 L313.2 151.09 L314.2 151.02 L315.2 150.95 L316.19 150.88 L317.19 150.8 L318.19 150.71 L319.19 150.62 L320.19 150.52 L321.19 150.42 L322.18 150.31 L323.18 150.19 L324.18 150.07 L325.18 149.93 L326.18 149.79 L327.18 149.64 L328.18 149.48 L329.17 149.31 L330.17 149.12 L331.17 148.93 L332.17 148.72 L333.17 148.5 L334.17 148.26 L335.17 148.01 L336.16 147.74 L337.16 147.45 L338.16 147.15 L339.16 146.82 L340.16 146.47 L341.16 146.1 L342.15 145.71 L343.15 145.29 L344.15 144.84 L345.15 144.37 L346.15 143.86 L347.15 143.31 L348.15 142.74 L349.14 142.12 L350.14 141.46 L351.14 140.76 L352.14 140.02 L353.14 139.22 L354.14 138.37 L355.13 137.47 L356.13 136.51 L357.13 135.48 L358.13 134.39 L359.13 133.22 L360.13 131.98 L361.13 130.65 L362.12 129.24 L363.12 127.73 L364.12 126.13 L365.12 124.42 L366.12 122.6 L367.12 120.65 L368.11 118.58 L369.11 116.37 L370.11 114.02 L371.11 111.51 L372.11 108.84 L373.11 105.99 L374.11 102.95 L375.1 99.72 L376.1 96.27 L377.1 92.59 L378.1 88.67 L379.1 84.49 L380.1 80.04 L381.1 75.29 L382.09 70.23 L383.09 64.84 L384.09 59.09 L385.09 52.97 L386.09 46.44 L387.04 39.8" stroke="#d42a20" stroke-width="1.6" fill="none"/>
<path d="M312.2 151.79 L313.2 151.75 L314.2 151.71 L315.2 151.67 L316.19 151.62 L317.19 151.57 L318.19 151.52 L319.19 151.46 L320.19 151.4 L321.19 151.34 L322.18 151.27 L323.18 151.2 L324.18 151.12 L325.18 151.04 L326.18 150.95 L327.18 150.86 L328.18 150.76 L329.17 150.65 L330.17 150.54 L331.17 150.42 L332.17 150.29 L333.17 150.15 L334.17 150 L335.17 149.85 L336.16 149.68 L337.16 149.5 L338.16 149.31 L339.16 149.11 L340.16 148.9 L341.16 148.67 L342.15 148.42 L343.15 148.16 L344.15 147.88 L345.15 147.59 L346.15 147.27 L347.15 146.94 L348.15 146.58 L349.14 146.2 L350.14 145.79 L351.14 145.36 L352.14 144.89 L353.14 144.4 L354.14 143.88 L355.13 143.32 L356.13 142.72 L357.13 142.08 L358.13 141.41 L359.13 140.68 L360.13 139.91 L361.13 139.09 L362.12 138.22 L363.12 137.28 L364.12 136.29 L365.12 135.23 L366.12 134.1 L367.12 132.9 L368.11 131.61 L369.11 130.25 L370.11 128.79 L371.11 127.23 L372.11 125.58 L373.11 123.81 L374.11 121.93 L375.1 119.92 L376.1 117.79 L377.1 115.51 L378.1 113.08 L379.1 110.49 L380.1 107.73 L381.1 104.79 L382.09 101.66 L383.09 98.31 L384.09 94.75 L385.09 90.96 L386.09 86.91 L387.09 82.6 L388.08 78 L389.08 73.1 L390.08 67.88 L391.08 62.32" stroke="#111" stroke-width="1.6" fill="none"/>
<path d="M312.2 152.52 L313.2 152.51 L314.2 152.5 L315.2 152.48 L316.19 152.47 L317.19 152.46 L318.19 152.44 L319.19 152.43 L320.19 152.41 L321.19 152.39 L322.18 152.37 L323.18 152.35 L324.18 152.32 L325.18 152.3 L326.18 152.27 L327.18 152.24 L328.18 152.21 L329.17 152.17 L330.17 152.14 L331.17 152.1 L332.17 152.05 L333.17 152.01 L334.17 151.96 L335.17 151.91 L336.16 151.85 L337.16 151.79 L338.16 151.72 L339.16 151.65 L340.16 151.57 L341.16 151.49 L342.15 151.4 L343.15 151.31 L344.15 151.21 L345.15 151.1 L346.15 150.98 L347.15 150.85 L348.15 150.71 L349.14 150.57 L350.14 150.41 L351.14 150.24 L352.14 150.05 L353.14 149.86 L354.14 149.65 L355.13 149.42 L356.13 149.17 L357.13 148.91 L358.13 148.63 L359.13 148.32 L360.13 147.99 L361.13 147.64 L362.12 147.26 L363.12 146.85 L364.12 146.41 L365.12 145.94 L366.12 145.43 L367.12 144.88 L368.11 144.3 L369.11 143.66 L370.11 142.98 L371.11 142.25 L372.11 141.46 L373.11 140.62 L374.11 139.7 L375.1 138.73 L376.1 137.67 L377.1 136.54 L378.1 135.32 L379.1 134.01 L380.1 132.6 L381.1 131.08 L382.09 129.45 L383.09 127.69 L384.09 125.8 L385.09 123.77 L386.09 121.58 L387.09 119.23 L388.08 116.71 L389.08 113.99 L390.08 111.06 L391.08 107.92" stroke="#3a48b0" stroke-width="1.6" fill="none"/>
<line x1="315.6" y1="47.9" x2="330.8" y2="47.9" stroke="#111" stroke-width="1.5"/>
<text x="334.6" y="53.1">Orai1</text>
<line x1="315.6" y1="63.45" x2="330.8" y2="63.45" stroke="#d42a20" stroke-width="1.5"/>
<text x="334.6" y="68.65">Orai2</text>
<line x1="315.6" y1="79" x2="330.8" y2="79" stroke="#3a48b0" stroke-width="1.5"/>
<text x="334.6" y="84.2">Orai3</text>
<text x="428.3" y="11.5" font-size="16" font-weight="bold">c</text>
<text x="456.6" y="21"><tspan font-style="italic">Orai</tspan><tspan dx="6.5">expression in single CA1 PNs</tspan></text>
<line x1="472.3" y1="37.98" x2="472.3" y2="153" stroke="#111111" stroke-width="1.3"/>
<line x1="464.3" y1="152.4" x2="472.3" y2="152.4" stroke="#111111" stroke-width="1.3"/>
<text x="459.5" y="155" text-anchor="end">0</text>
<line x1="464.3" y1="133.43" x2="472.3" y2="133.43" stroke="#111111" stroke-width="1.3"/>
<text x="459.5" y="136.03" text-anchor="end">1</text>
<line x1="464.3" y1="114.46" x2="472.3" y2="114.46" stroke="#111111" stroke-width="1.3"/>
<text x="459.5" y="117.06" text-anchor="end">2</text>
<line x1="464.3" y1="95.49" x2="472.3" y2="95.49" stroke="#111111" stroke-width="1.3"/>
<text x="459.5" y="98.09" text-anchor="end">3</text>
<line x1="464.3" y1="76.52" x2="472.3" y2="76.52" stroke="#111111" stroke-width="1.3"/>
<text x="459.5" y="79.12" text-anchor="end">4</text>
<line x1="464.3" y1="57.55" x2="472.3" y2="57.55" stroke="#111111" stroke-width="1.3"/>
<text x="459.5" y="60.15" text-anchor="end">5</text>
<line x1="464.3" y1="38.58" x2="472.3" y2="38.58" stroke="#111111" stroke-width="1.3"/>
<text x="459.5" y="41.18" text-anchor="end">6</text>
<text transform="translate(437.6 96) rotate(-90)" text-anchor="middle">Rel. expression [%]</text>
<line x1="481.2" y1="139.2" x2="491.2" y2="139.2" stroke="#8f8f8f" stroke-width="1.1"/>
<line x1="481.2" y1="140.6" x2="491.2" y2="140.6" stroke="#8f8f8f" stroke-width="1.1"/>
<line x1="481.2" y1="142" x2="491.2" y2="142" stroke="#8f8f8f" stroke-width="1.1"/>
<line x1="481.2" y1="143.4" x2="491.2" y2="143.4" stroke="#8f8f8f" stroke-width="1.1"/>
<line x1="481.2" y1="144.9" x2="491.2" y2="144.9" stroke="#8f8f8f" stroke-width="1.1"/>
<line x1="481.2" y1="148.6" x2="491.2" y2="148.6" stroke="#333" stroke-width="1.1"/>
<line x1="481.2" y1="149.7" x2="491.2" y2="149.7" stroke="#333" stroke-width="1.1"/>
<line x1="481.2" y1="150.8" x2="491.2" y2="150.8" stroke="#333" stroke-width="1.1"/>
<line x1="504.6" y1="59.7" x2="514.6" y2="59.7" stroke="#b0b0b0" stroke-width="1.1"/>
<line x1="504.6" y1="77.8" x2="514.6" y2="77.8" stroke="#b0b0b0" stroke-width="1.1"/>
<line x1="504.6" y1="93" x2="514.6" y2="93" stroke="#b0b0b0" stroke-width="1.1"/>
<line x1="504.6" y1="111.8" x2="514.6" y2="111.8" stroke="#b0b0b0" stroke-width="1.1"/>
<line x1="504.6" y1="125.2" x2="514.6" y2="125.2" stroke="#b0b0b0" stroke-width="1.1"/>
<line x1="504.6" y1="132.2" x2="514.6" y2="132.2" stroke="#b0b0b0" stroke-width="1.1"/>
<line x1="504.6" y1="136.5" x2="514.6" y2="136.5" stroke="#b0b0b0" stroke-width="1.1"/>
<line x1="504.6" y1="143.6" x2="514.6" y2="143.6" stroke="#a0a0a0" stroke-width="1.1"/>
<line x1="504.6" y1="144.8" x2="514.6" y2="144.8" stroke="#a0a0a0" stroke-width="1.1"/>
<line x1="504.6" y1="146" x2="514.6" y2="146" stroke="#a0a0a0" stroke-width="1.1"/>
<line x1="504.6" y1="147.3" x2="514.6" y2="147.3" stroke="#7a7a7a" stroke-width="1.1"/>
<line x1="504.6" y1="148.5" x2="514.6" y2="148.5" stroke="#7a7a7a" stroke-width="1.1"/>
<line x1="504.6" y1="149.7" x2="514.6" y2="149.7" stroke="#7a7a7a" stroke-width="1.1"/>
<line x1="504.6" y1="150.9" x2="514.6" y2="150.9" stroke="#7a7a7a" stroke-width="1.1"/>
<line x1="528.7" y1="136.9" x2="538.7" y2="136.9" stroke="#b0b0b0" stroke-width="1.1"/>
<line x1="528.7" y1="144.6" x2="538.7" y2="144.6" stroke="#a8a8a8" stroke-width="1.1"/>
<line x1="528.7" y1="145.9" x2="538.7" y2="145.9" stroke="#a8a8a8" stroke-width="1.1"/>
<line x1="528.7" y1="147.1" x2="538.7" y2="147.1" stroke="#a8a8a8" stroke-width="1.1"/>
<line x1="528.7" y1="148.3" x2="538.7" y2="148.3" stroke="#333" stroke-width="1.1"/>
<line x1="528.7" y1="150.9" x2="538.7" y2="150.9" stroke="#333" stroke-width="1.1"/>
<rect x="478.4" y="147.4" width="15.5" height="4.9" stroke="#111111" stroke-width="1.3" fill="none"/>
<line x1="486.2" y1="147.4" x2="486.2" y2="145.3" stroke="#111111" stroke-width="1.3"/>
<line x1="482.2" y1="145.3" x2="490.2" y2="145.3" stroke="#111111" stroke-width="1.3"/>
<rect x="501.8" y="130" width="15.6" height="22.3" stroke="#111111" stroke-width="1.3" fill="none"/>
<line x1="509.6" y1="130" x2="509.6" y2="123.1" stroke="#111111" stroke-width="1.3"/>
<line x1="505.2" y1="123.1" x2="514" y2="123.1" stroke="#111111" stroke-width="1.3"/>
<rect x="525.7" y="149.6" width="16" height="2.7" stroke="#111111" stroke-width="1.3" fill="none"/>
<line x1="533.7" y1="149.6" x2="533.7" y2="148" stroke="#111111" stroke-width="1.3"/>
<line x1="529.7" y1="148" x2="537.7" y2="148" stroke="#111111" stroke-width="1.3"/>
<path d="M486.3 113.5 L486.3 105.4 L508 105.4 L508 113.5" stroke="#111111" stroke-width="1.3" fill="none"/>
<path d="M510.6 113.5 L510.6 105.4 L534.2 105.4 L534.2 113.5" stroke="#111111" stroke-width="1.3" fill="none"/>
<path d="M493.2 98.5 L494.02 100.27 L495.96 100.5 L494.52 101.83 L494.9 103.75 L493.2 102.79 L491.5 103.75 L491.88 101.83 L490.44 100.5 L492.38 100.27 Z" fill="#111111"/>
<path d="M500.3 98.5 L501.12 100.27 L503.06 100.5 L501.62 101.83 L502 103.75 L500.3 102.79 L498.6 103.75 L498.98 101.83 L497.54 100.5 L499.48 100.27 Z" fill="#111111"/>
<path d="M517.1 98.5 L517.92 100.27 L519.86 100.5 L518.42 101.83 L518.8 103.75 L517.1 102.79 L515.4 103.75 L515.78 101.83 L514.34 100.5 L516.28 100.27 Z" fill="#111111"/>
<path d="M524.2 98.5 L525.02 100.27 L526.96 100.5 L525.52 101.83 L525.9 103.75 L524.2 102.79 L522.5 103.75 L522.88 101.83 L521.44 100.5 L523.38 100.27 Z" fill="#111111"/>
<text transform="translate(492 166.3) rotate(-45)" text-anchor="end" font-style="italic">Orai1</text>
<text transform="translate(515.3 166.3) rotate(-45)" text-anchor="end" font-style="italic">Orai2</text>
<text transform="translate(540.7 166.3) rotate(-45)" text-anchor="end" font-style="italic">Orai3</text>
<line x1="602.9" y1="39.8" x2="602.9" y2="154.8" stroke="#111111" stroke-width="1.3"/>
<line x1="594.9" y1="154.2" x2="602.9" y2="154.2" stroke="#111111" stroke-width="1.3"/>
<text x="590.4" y="158.6" text-anchor="end">0</text>
<line x1="594.9" y1="125.75" x2="602.9" y2="125.75" stroke="#111111" stroke-width="1.3"/>
<text x="590.4" y="130.15" text-anchor="end">1</text>
<line x1="594.9" y1="97.3" x2="602.9" y2="97.3" stroke="#111111" stroke-width="1.3"/>
<text x="590.4" y="101.7" text-anchor="end">2</text>
<line x1="594.9" y1="68.85" x2="602.9" y2="68.85" stroke="#111111" stroke-width="1.3"/>
<text x="590.4" y="73.25" text-anchor="end">3</text>
<line x1="594.9" y1="40.4" x2="602.9" y2="40.4" stroke="#111111" stroke-width="1.3"/>
<text x="590.4" y="44.8" text-anchor="end">4</text>
<line x1="594.9" y1="154.2" x2="679.58" y2="154.2" stroke="#111111" stroke-width="1.3"/>
<line x1="602.9" y1="154.2" x2="602.9" y2="162.2" stroke="#111111" stroke-width="1.3"/>
<text x="602.9" y="178.6" text-anchor="middle">24</text>
<line x1="621.92" y1="154.2" x2="621.92" y2="162.2" stroke="#111111" stroke-width="1.3"/>
<line x1="640.94" y1="154.2" x2="640.94" y2="162.2" stroke="#111111" stroke-width="1.3"/>
<text x="640.94" y="178.6" text-anchor="middle">28</text>
<line x1="659.96" y1="154.2" x2="659.96" y2="162.2" stroke="#111111" stroke-width="1.3"/>
<line x1="678.98" y1="154.2" x2="678.98" y2="162.2" stroke="#111111" stroke-width="1.3"/>
<text x="678.98" y="178.6" text-anchor="middle">32</text>
<text x="642" y="195.8" text-anchor="middle">Cycle #</text>
<text transform="translate(569.3 100.4) rotate(-90)" text-anchor="middle">log<tspan font-size="10" dy="3.4">fluorescence</tspan><tspan dy="-3.4"> [a.u.]</tspan></text>
<line x1="602.9" y1="103.9" x2="681" y2="103.9" stroke="#777" stroke-width="1.1" stroke-dasharray="3.2 2.2"/>
<path d="M602.9 152.36 L603.86 152.35 L604.83 152.34 L605.79 152.33 L606.75 152.32 L607.72 152.31 L608.68 152.29 L609.64 152.28 L610.6 152.26 L611.57 152.24 L612.53 152.23 L613.49 152.21 L614.46 152.19 L615.42 152.16 L616.38 152.14 L617.35 152.11 L618.31 152.08 L619.27 152.05 L620.23 152.02 L621.2 151.99 L622.16 151.95 L623.12 151.91 L624.09 151.87 L625.05 151.82 L626.01 151.77 L626.98 151.72 L627.94 151.66 L628.9 151.6 L629.87 151.54 L630.83 151.47 L631.79 151.39 L632.75 151.31 L633.72 151.22 L634.68 151.13 L635.64 151.03 L636.61 150.92 L637.57 150.81 L638.53 150.68 L639.5 150.55 L640.46 150.41 L641.42 150.25 L642.38 150.09 L643.35 149.91 L644.31 149.72 L645.27 149.52 L646.24 149.3 L647.2 149.06 L648.16 148.81 L649.13 148.54 L650.09 148.25 L651.05 147.94 L652.01 147.61 L652.98 147.25 L653.94 146.86 L654.9 146.45 L655.87 146 L656.83 145.53 L657.79 145.02 L658.76 144.47 L659.72 143.88 L660.68 143.24 L661.65 142.57 L662.61 141.84 L663.57 141.05 L664.53 140.21 L665.5 139.31 L666.46 138.34 L667.42 137.3 L668.39 136.19 L669.35 134.99 L670.31 133.7 L671.28 132.32 L672.24 130.84 L673.2 129.25 L674.16 127.54 L675.13 125.71 L676.09 123.74 L677.05 121.63 L678.02 119.36 L678.98 116.93" stroke="#8aa0ae" stroke-width="1" fill="none"/>
<path d="M602.9 152.38 L603.86 152.37 L604.83 152.36 L605.79 152.35 L606.75 152.34 L607.72 152.33 L608.68 152.32 L609.64 152.3 L610.6 152.29 L611.57 152.27 L612.53 152.26 L613.49 152.24 L614.46 152.22 L615.42 152.2 L616.38 152.18 L617.35 152.16 L618.31 152.13 L619.27 152.11 L620.23 152.08 L621.2 152.05 L622.16 152.02 L623.12 151.98 L624.09 151.94 L625.05 151.9 L626.01 151.86 L626.98 151.81 L627.94 151.76 L628.9 151.71 L629.87 151.65 L630.83 151.59 L631.79 151.52 L632.75 151.45 L633.72 151.37 L634.68 151.29 L635.64 151.2 L636.61 151.11 L637.57 151.01 L638.53 150.9 L639.5 150.78 L640.46 150.66 L641.42 150.52 L642.38 150.38 L643.35 150.22 L644.31 150.05 L645.27 149.87 L646.24 149.68 L647.2 149.48 L648.16 149.25 L649.13 149.02 L650.09 148.76 L651.05 148.49 L652.01 148.19 L652.98 147.88 L653.94 147.54 L654.9 147.17 L655.87 146.78 L656.83 146.36 L657.79 145.91 L658.76 145.43 L659.72 144.91 L660.68 144.35 L661.65 143.76 L662.61 143.11 L663.57 142.43 L664.53 141.69 L665.5 140.89 L666.46 140.04 L667.42 139.13 L668.39 138.14 L669.35 137.09 L670.31 135.96 L671.28 134.74 L672.24 133.44 L673.2 132.04 L674.16 130.54 L675.13 128.92 L676.09 127.19 L677.05 125.33 L678.02 123.34 L678.98 121.2" stroke="#8aa0ae" stroke-width="1" fill="none"/>
<path d="M602.9 152.39 L603.86 152.39 L604.83 152.38 L605.79 152.37 L606.75 152.36 L607.72 152.35 L608.68 152.34 L609.64 152.33 L610.6 152.32 L611.57 152.3 L612.53 152.29 L613.49 152.28 L614.46 152.26 L615.42 152.24 L616.38 152.22 L617.35 152.2 L618.31 152.18 L619.27 152.16 L620.23 152.13 L621.2 152.11 L622.16 152.08 L623.12 152.05 L624.09 152.02 L625.05 151.98 L626.01 151.95 L626.98 151.9 L627.94 151.86 L628.9 151.82 L629.87 151.77 L630.83 151.71 L631.79 151.65 L632.75 151.59 L633.72 151.53 L634.68 151.46 L635.64 151.38 L636.61 151.3 L637.57 151.21 L638.53 151.12 L639.5 151.02 L640.46 150.91 L641.42 150.79 L642.38 150.67 L643.35 150.53 L644.31 150.39 L645.27 150.23 L646.24 150.07 L647.2 149.89 L648.16 149.7 L649.13 149.49 L650.09 149.27 L651.05 149.03 L652.01 148.78 L652.98 148.51 L653.94 148.21 L654.9 147.9 L655.87 147.56 L656.83 147.2 L657.79 146.81 L658.76 146.39 L659.72 145.95 L660.68 145.46 L661.65 144.95 L662.61 144.39 L663.57 143.8 L664.53 143.16 L665.5 142.47 L666.46 141.74 L667.42 140.95 L668.39 140.1 L669.35 139.19 L670.31 138.21 L671.28 137.16 L672.24 136.04 L673.2 134.83 L674.16 133.53 L675.13 132.14 L676.09 130.64 L677.05 129.04 L678.02 127.32 L678.98 125.47" stroke="#8aa0ae" stroke-width="1" fill="none"/>
<path d="M602.9 152.4 L603.86 152.4 L604.83 152.39 L605.79 152.38 L606.75 152.37 L607.72 152.37 L608.68 152.36 L609.64 152.35 L610.6 152.34 L611.57 152.32 L612.53 152.31 L613.49 152.3 L614.46 152.28 L615.42 152.27 L616.38 152.25 L617.35 152.23 L618.31 152.22 L619.27 152.19 L620.23 152.17 L621.2 152.15 L622.16 152.12 L623.12 152.1 L624.09 152.07 L625.05 152.04 L626.01 152 L626.98 151.97 L627.94 151.93 L628.9 151.89 L629.87 151.84 L630.83 151.79 L631.79 151.74 L632.75 151.69 L633.72 151.63 L634.68 151.57 L635.64 151.5 L636.61 151.42 L637.57 151.35 L638.53 151.26 L639.5 151.17 L640.46 151.07 L641.42 150.97 L642.38 150.86 L643.35 150.74 L644.31 150.61 L645.27 150.47 L646.24 150.32 L647.2 150.16 L648.16 149.99 L649.13 149.81 L650.09 149.61 L651.05 149.4 L652.01 149.17 L652.98 148.93 L653.94 148.66 L654.9 148.38 L655.87 148.08 L656.83 147.76 L657.79 147.41 L658.76 147.04 L659.72 146.63 L660.68 146.2 L661.65 145.74 L662.61 145.25 L663.57 144.71 L664.53 144.14 L665.5 143.53 L666.46 142.87 L667.42 142.16 L668.39 141.4 L669.35 140.59 L670.31 139.72 L671.28 138.78 L672.24 137.77 L673.2 136.69 L674.16 135.53 L675.13 134.28 L676.09 132.94 L677.05 131.51 L678.02 129.97 L678.98 128.31" stroke="#8aa0ae" stroke-width="1" fill="none"/>
<path d="M602.9 152.41 L603.86 152.41 L604.83 152.4 L605.79 152.4 L606.75 152.39 L607.72 152.38 L608.68 152.37 L609.64 152.36 L610.6 152.35 L611.57 152.34 L612.53 152.33 L613.49 152.32 L614.46 152.31 L615.42 152.29 L616.38 152.28 L617.35 152.26 L618.31 152.25 L619.27 152.23 L620.23 152.21 L621.2 152.19 L622.16 152.17 L623.12 152.14 L624.09 152.12 L625.05 152.09 L626.01 152.06 L626.98 152.03 L627.94 151.99 L628.9 151.96 L629.87 151.92 L630.83 151.88 L631.79 151.83 L632.75 151.78 L633.72 151.73 L634.68 151.67 L635.64 151.61 L636.61 151.55 L637.57 151.48 L638.53 151.41 L639.5 151.33 L640.46 151.24 L641.42 151.15 L642.38 151.05 L643.35 150.94 L644.31 150.83 L645.27 150.71 L646.24 150.58 L647.2 150.44 L648.16 150.28 L649.13 150.12 L650.09 149.95 L651.05 149.76 L652.01 149.56 L652.98 149.35 L653.94 149.11 L654.9 148.87 L655.87 148.6 L656.83 148.31 L657.79 148.01 L658.76 147.68 L659.72 147.32 L660.68 146.94 L661.65 146.54 L662.61 146.1 L663.57 145.63 L664.53 145.12 L665.5 144.58 L666.46 144 L667.42 143.38 L668.39 142.71 L669.35 141.99 L670.31 141.22 L671.28 140.39 L672.24 139.5 L673.2 138.55 L674.16 137.52 L675.13 136.42 L676.09 135.24 L677.05 133.98 L678.02 132.62 L678.98 131.16" stroke="#8aa0ae" stroke-width="1" fill="none"/>
<path d="M602.9 152.42 L603.86 152.42 L604.83 152.41 L605.79 152.41 L606.75 152.4 L607.72 152.4 L608.68 152.39 L609.64 152.38 L610.6 152.37 L611.57 152.36 L612.53 152.35 L613.49 152.34 L614.46 152.33 L615.42 152.32 L616.38 152.31 L617.35 152.29 L618.31 152.28 L619.27 152.26 L620.23 152.25 L621.2 152.23 L622.16 152.21 L623.12 152.19 L624.09 152.17 L625.05 152.14 L626.01 152.12 L626.98 152.09 L627.94 152.06 L628.9 152.03 L629.87 152 L630.83 151.96 L631.79 151.92 L632.75 151.88 L633.72 151.83 L634.68 151.78 L635.64 151.73 L636.61 151.68 L637.57 151.62 L638.53 151.55 L639.5 151.48 L640.46 151.41 L641.42 151.33 L642.38 151.24 L643.35 151.15 L644.31 151.05 L645.27 150.95 L646.24 150.83 L647.2 150.71 L648.16 150.58 L649.13 150.44 L650.09 150.29 L651.05 150.13 L652.01 149.95 L652.98 149.77 L653.94 149.56 L654.9 149.35 L655.87 149.12 L656.83 148.87 L657.79 148.61 L658.76 148.32 L659.72 148.01 L660.68 147.68 L661.65 147.33 L662.61 146.95 L663.57 146.54 L664.53 146.11 L665.5 145.64 L666.46 145.13 L667.42 144.59 L668.39 144.01 L669.35 143.39 L670.31 142.72 L671.28 142 L672.24 141.23 L673.2 140.41 L674.16 139.52 L675.13 138.57 L676.09 137.54 L677.05 136.44 L678.02 135.27 L678.98 134" stroke="#8aa0ae" stroke-width="1" fill="none"/>
<path d="M602.9 152.43 L603.86 152.43 L604.83 152.42 L605.79 152.42 L606.75 152.41 L607.72 152.41 L608.68 152.4 L609.64 152.39 L610.6 152.39 L611.57 152.38 L612.53 152.37 L613.49 152.36 L614.46 152.35 L615.42 152.34 L616.38 152.33 L617.35 152.32 L618.31 152.3 L619.27 152.29 L620.23 152.27 L621.2 152.26 L622.16 152.24 L623.12 152.22 L624.09 152.2 L625.05 152.18 L626.01 152.16 L626.98 152.13 L627.94 152.11 L628.9 152.08 L629.87 152.05 L630.83 152.02 L631.79 151.98 L632.75 151.94 L633.72 151.9 L634.68 151.86 L635.64 151.81 L636.61 151.76 L637.57 151.71 L638.53 151.65 L639.5 151.59 L640.46 151.52 L641.42 151.45 L642.38 151.38 L643.35 151.3 L644.31 151.21 L645.27 151.11 L646.24 151.01 L647.2 150.9 L648.16 150.79 L649.13 150.66 L650.09 150.53 L651.05 150.38 L652.01 150.23 L652.98 150.06 L653.94 149.88 L654.9 149.69 L655.87 149.48 L656.83 149.26 L657.79 149.02 L658.76 148.77 L659.72 148.5 L660.68 148.2 L661.65 147.89 L662.61 147.55 L663.57 147.18 L664.53 146.79 L665.5 146.38 L666.46 145.93 L667.42 145.44 L668.39 144.93 L669.35 144.37 L670.31 143.77 L671.28 143.13 L672.24 142.45 L673.2 141.71 L674.16 140.92 L675.13 140.07 L676.09 139.15 L677.05 138.17 L678.02 137.12 L678.98 135.99" stroke="#8aa0ae" stroke-width="1" fill="none"/>
<path d="M602.9 152.44 L603.86 152.44 L604.83 152.43 L605.79 152.43 L606.75 152.42 L607.72 152.42 L608.68 152.41 L609.64 152.41 L610.6 152.4 L611.57 152.39 L612.53 152.39 L613.49 152.38 L614.46 152.37 L615.42 152.36 L616.38 152.35 L617.35 152.34 L618.31 152.33 L619.27 152.32 L620.23 152.3 L621.2 152.29 L622.16 152.28 L623.12 152.26 L624.09 152.24 L625.05 152.22 L626.01 152.2 L626.98 152.18 L627.94 152.16 L628.9 152.14 L629.87 152.11 L630.83 152.08 L631.79 152.05 L632.75 152.02 L633.72 151.98 L634.68 151.95 L635.64 151.91 L636.61 151.86 L637.57 151.82 L638.53 151.77 L639.5 151.72 L640.46 151.66 L641.42 151.6 L642.38 151.53 L643.35 151.46 L644.31 151.38 L645.27 151.3 L646.24 151.22 L647.2 151.12 L648.16 151.02 L649.13 150.91 L650.09 150.8 L651.05 150.67 L652.01 150.54 L652.98 150.39 L653.94 150.24 L654.9 150.08 L655.87 149.9 L656.83 149.71 L657.79 149.5 L658.76 149.28 L659.72 149.05 L660.68 148.79 L661.65 148.52 L662.61 148.23 L663.57 147.92 L664.53 147.58 L665.5 147.22 L666.46 146.83 L667.42 146.42 L668.39 145.97 L669.35 145.49 L670.31 144.98 L671.28 144.42 L672.24 143.83 L673.2 143.2 L674.16 142.51 L675.13 141.78 L676.09 140.99 L677.05 140.15 L678.02 139.24 L678.98 138.27" stroke="#8aa0ae" stroke-width="1" fill="none"/>
<path d="M602.9 152.45 L603.86 152.44 L604.83 152.44 L605.79 152.44 L606.75 152.43 L607.72 152.43 L608.68 152.42 L609.64 152.42 L610.6 152.41 L611.57 152.41 L612.53 152.4 L613.49 152.39 L614.46 152.38 L615.42 152.38 L616.38 152.37 L617.35 152.36 L618.31 152.35 L619.27 152.34 L620.23 152.33 L621.2 152.32 L622.16 152.3 L623.12 152.29 L624.09 152.27 L625.05 152.26 L626.01 152.24 L626.98 152.22 L627.94 152.2 L628.9 152.18 L629.87 152.16 L630.83 152.13 L631.79 152.1 L632.75 152.08 L633.72 152.05 L634.68 152.01 L635.64 151.98 L636.61 151.94 L637.57 151.9 L638.53 151.86 L639.5 151.81 L640.46 151.76 L641.42 151.7 L642.38 151.65 L643.35 151.58 L644.31 151.52 L645.27 151.45 L646.24 151.37 L647.2 151.29 L648.16 151.2 L649.13 151.1 L650.09 151 L651.05 150.89 L652.01 150.77 L652.98 150.65 L653.94 150.51 L654.9 150.37 L655.87 150.21 L656.83 150.04 L657.79 149.86 L658.76 149.67 L659.72 149.46 L660.68 149.24 L661.65 149 L662.61 148.74 L663.57 148.47 L664.53 148.17 L665.5 147.85 L666.46 147.51 L667.42 147.15 L668.39 146.75 L669.35 146.33 L670.31 145.88 L671.28 145.39 L672.24 144.87 L673.2 144.31 L674.16 143.71 L675.13 143.07 L676.09 142.37 L677.05 141.63 L678.02 140.83 L678.98 139.97" stroke="#8aa0ae" stroke-width="1" fill="none"/>
<path d="M602.9 152.45 L603.86 152.45 L604.83 152.45 L605.79 152.44 L606.75 152.44 L607.72 152.44 L608.68 152.43 L609.64 152.43 L610.6 152.42 L611.57 152.42 L612.53 152.41 L613.49 152.41 L614.46 152.4 L615.42 152.39 L616.38 152.39 L617.35 152.38 L618.31 152.37 L619.27 152.36 L620.23 152.35 L621.2 152.34 L622.16 152.33 L623.12 152.32 L624.09 152.3 L625.05 152.29 L626.01 152.27 L626.98 152.26 L627.94 152.24 L628.9 152.22 L629.87 152.2 L630.83 152.18 L631.79 152.16 L632.75 152.13 L633.72 152.11 L634.68 152.08 L635.64 152.05 L636.61 152.02 L637.57 151.98 L638.53 151.94 L639.5 151.9 L640.46 151.86 L641.42 151.81 L642.38 151.76 L643.35 151.71 L644.31 151.65 L645.27 151.59 L646.24 151.52 L647.2 151.45 L648.16 151.37 L649.13 151.29 L650.09 151.2 L651.05 151.11 L652.01 151.01 L652.98 150.9 L653.94 150.78 L654.9 150.66 L655.87 150.52 L656.83 150.38 L657.79 150.22 L658.76 150.05 L659.72 149.87 L660.68 149.68 L661.65 149.47 L662.61 149.25 L663.57 149.02 L664.53 148.76 L665.5 148.49 L666.46 148.19 L667.42 147.88 L668.39 147.54 L669.35 147.17 L670.31 146.78 L671.28 146.36 L672.24 145.91 L673.2 145.43 L674.16 144.91 L675.13 144.35 L676.09 143.75 L677.05 143.11 L678.02 142.42 L678.98 141.68" stroke="#8aa0ae" stroke-width="1" fill="none"/>
<path d="M602.9 152.46 L603.86 152.46 L604.83 152.45 L605.79 152.45 L606.75 152.45 L607.72 152.45 L608.68 152.44 L609.64 152.44 L610.6 152.43 L611.57 152.43 L612.53 152.42 L613.49 152.42 L614.46 152.41 L615.42 152.41 L616.38 152.4 L617.35 152.4 L618.31 152.39 L619.27 152.38 L620.23 152.37 L621.2 152.36 L622.16 152.35 L623.12 152.34 L624.09 152.33 L625.05 152.32 L626.01 152.31 L626.98 152.29 L627.94 152.28 L628.9 152.26 L629.87 152.25 L630.83 152.23 L631.79 152.21 L632.75 152.19 L633.72 152.17 L634.68 152.14 L635.64 152.12 L636.61 152.09 L637.57 152.06 L638.53 152.03 L639.5 152 L640.46 151.96 L641.42 151.92 L642.38 151.88 L643.35 151.83 L644.31 151.78 L645.27 151.73 L646.24 151.68 L647.2 151.62 L648.16 151.55 L649.13 151.48 L650.09 151.41 L651.05 151.33 L652.01 151.24 L652.98 151.15 L653.94 151.05 L654.9 150.95 L655.87 150.83 L656.83 150.71 L657.79 150.58 L658.76 150.44 L659.72 150.29 L660.68 150.13 L661.65 149.95 L662.61 149.76 L663.57 149.56 L664.53 149.35 L665.5 149.12 L666.46 148.87 L667.42 148.6 L668.39 148.32 L669.35 148.01 L670.31 147.68 L671.28 147.33 L672.24 146.95 L673.2 146.54 L674.16 146.11 L675.13 145.64 L676.09 145.13 L677.05 144.59 L678.02 144.01 L678.98 143.39" stroke="#8aa0ae" stroke-width="1" fill="none"/>
<path d="M602.9 152.46 L603.86 152.46 L604.83 152.46 L605.79 152.46 L606.75 152.46 L607.72 152.45 L608.68 152.45 L609.64 152.45 L610.6 152.44 L611.57 152.44 L612.53 152.44 L613.49 152.43 L614.46 152.43 L615.42 152.42 L616.38 152.42 L617.35 152.41 L618.31 152.4 L619.27 152.4 L620.23 152.39 L621.2 152.38 L622.16 152.38 L623.12 152.37 L624.09 152.36 L625.05 152.35 L626.01 152.34 L626.98 152.33 L627.94 152.31 L628.9 152.3 L629.87 152.29 L630.83 152.27 L631.79 152.25 L632.75 152.24 L633.72 152.22 L634.68 152.2 L635.64 152.18 L636.61 152.15 L637.57 152.13 L638.53 152.1 L639.5 152.07 L640.46 152.04 L641.42 152.01 L642.38 151.97 L643.35 151.94 L644.31 151.89 L645.27 151.85 L646.24 151.8 L647.2 151.75 L648.16 151.7 L649.13 151.64 L650.09 151.58 L651.05 151.51 L652.01 151.44 L652.98 151.36 L653.94 151.28 L654.9 151.19 L655.87 151.09 L656.83 150.99 L657.79 150.88 L658.76 150.76 L659.72 150.63 L660.68 150.5 L661.65 150.35 L662.61 150.19 L663.57 150.02 L664.53 149.84 L665.5 149.65 L666.46 149.44 L667.42 149.21 L668.39 148.97 L669.35 148.71 L670.31 148.43 L671.28 148.14 L672.24 147.82 L673.2 147.47 L674.16 147.1 L675.13 146.71 L676.09 146.28 L677.05 145.83 L678.02 145.34 L678.98 144.81" stroke="#8aa0ae" stroke-width="1" fill="none"/>
<path d="M602.9 152.47 L603.86 152.47 L604.83 152.47 L605.79 152.46 L606.75 152.46 L607.72 152.46 L608.68 152.46 L609.64 152.45 L610.6 152.45 L611.57 152.45 L612.53 152.45 L613.49 152.44 L614.46 152.44 L615.42 152.43 L616.38 152.43 L617.35 152.43 L618.31 152.42 L619.27 152.42 L620.23 152.41 L621.2 152.4 L622.16 152.4 L623.12 152.39 L624.09 152.38 L625.05 152.37 L626.01 152.37 L626.98 152.36 L627.94 152.35 L628.9 152.34 L629.87 152.32 L630.83 152.31 L631.79 152.3 L632.75 152.28 L633.72 152.27 L634.68 152.25 L635.64 152.24 L636.61 152.22 L637.57 152.2 L638.53 152.17 L639.5 152.15 L640.46 152.13 L641.42 152.1 L642.38 152.07 L643.35 152.04 L644.31 152.01 L645.27 151.97 L646.24 151.93 L647.2 151.89 L648.16 151.85 L649.13 151.8 L650.09 151.75 L651.05 151.69 L652.01 151.63 L652.98 151.57 L653.94 151.5 L654.9 151.43 L655.87 151.35 L656.83 151.27 L657.79 151.18 L658.76 151.08 L659.72 150.98 L660.68 150.87 L661.65 150.75 L662.61 150.62 L663.57 150.48 L664.53 150.33 L665.5 150.17 L666.46 150 L667.42 149.82 L668.39 149.62 L669.35 149.41 L670.31 149.19 L671.28 148.94 L672.24 148.68 L673.2 148.4 L674.16 148.1 L675.13 147.78 L676.09 147.43 L677.05 147.06 L678.02 146.66 L678.98 146.23" stroke="#8aa0ae" stroke-width="1" fill="none"/>
<path d="M602.9 151.59 L603.86 151.54 L604.83 151.49 L605.79 151.44 L606.75 151.38 L607.72 151.32 L608.68 151.26 L609.64 151.19 L610.6 151.11 L611.57 151.03 L612.53 150.95 L613.49 150.85 L614.46 150.76 L615.42 150.65 L616.38 150.53 L617.35 150.41 L618.31 150.28 L619.27 150.14 L620.23 149.99 L621.2 149.82 L622.16 149.65 L623.12 149.46 L624.09 149.26 L625.05 149.04 L626.01 148.81 L626.98 148.56 L627.94 148.29 L628.9 148 L629.87 147.69 L630.83 147.36 L631.79 147 L632.75 146.62 L633.72 146.21 L634.68 145.77 L635.64 145.3 L636.61 144.79 L637.57 144.24 L638.53 143.66 L639.5 143.03 L640.46 142.36 L641.42 141.63 L642.38 140.86 L643.35 140.02 L644.31 139.13 L645.27 138.17 L646.24 137.13 L647.2 136.03 L648.16 134.84 L649.13 133.56 L650.09 132.19 L651.05 130.72 L652.01 129.14 L652.98 127.45 L653.94 125.63 L654.9 123.68 L655.87 121.58 L656.83 119.33 L657.79 116.92 L658.76 114.33 L659.72 111.54 L660.68 108.56 L661.65 105.35 L662.61 101.91 L663.57 98.21 L664.53 94.25 L665.5 89.99 L666.46 85.42 L667.42 80.51 L668.39 75.24 L669.35 69.59 L670.31 63.52 L671.28 57.01 L672.24 50.01 L673.2 42.5 L673.46 40.4" stroke="#ee9b96" stroke-width="1" fill="none" stroke-opacity="0.7"/>
<path d="M602.9 151.78 L603.86 151.75 L604.83 151.72 L605.79 151.68 L606.75 151.64 L607.72 151.6 L608.68 151.56 L609.64 151.51 L610.6 151.46 L611.57 151.4 L612.53 151.34 L613.49 151.28 L614.46 151.21 L615.42 151.14 L616.38 151.06 L617.35 150.97 L618.31 150.88 L619.27 150.79 L620.23 150.68 L621.2 150.57 L622.16 150.45 L623.12 150.32 L624.09 150.18 L625.05 150.03 L626.01 149.87 L626.98 149.7 L627.94 149.52 L628.9 149.32 L629.87 149.11 L630.83 148.88 L631.79 148.64 L632.75 148.37 L633.72 148.09 L634.68 147.79 L635.64 147.46 L636.61 147.12 L637.57 146.74 L638.53 146.34 L639.5 145.91 L640.46 145.45 L641.42 144.95 L642.38 144.42 L643.35 143.84 L644.31 143.23 L645.27 142.57 L646.24 141.86 L647.2 141.1 L648.16 140.29 L649.13 139.41 L650.09 138.47 L651.05 137.46 L652.01 136.38 L652.98 135.21 L653.94 133.96 L654.9 132.62 L655.87 131.19 L656.83 129.64 L657.79 127.98 L658.76 126.2 L659.72 124.29 L660.68 122.24 L661.65 120.04 L662.61 117.68 L663.57 115.14 L664.53 112.42 L665.5 109.5 L666.46 106.36 L667.42 102.99 L668.39 99.38 L669.35 95.5 L670.31 91.33 L671.28 86.86 L672.24 82.06 L673.2 76.9 L674.16 71.37 L675.13 65.43 L676.09 59.06 L677.05 52.22 L678.02 44.87 L678.57 40.4" stroke="#ee9b96" stroke-width="1" fill="none" stroke-opacity="0.7"/>
<path d="M602.9 151.92 L603.86 151.9 L604.83 151.88 L605.79 151.85 L606.75 151.82 L607.72 151.8 L608.68 151.77 L609.64 151.73 L610.6 151.7 L611.57 151.66 L612.53 151.62 L613.49 151.58 L614.46 151.53 L615.42 151.48 L616.38 151.43 L617.35 151.37 L618.31 151.31 L619.27 151.24 L620.23 151.17 L621.2 151.1 L622.16 151.01 L623.12 150.93 L624.09 150.83 L625.05 150.73 L626.01 150.62 L626.98 150.51 L627.94 150.38 L628.9 150.25 L629.87 150.1 L630.83 149.95 L631.79 149.78 L632.75 149.6 L633.72 149.41 L634.68 149.21 L635.64 148.99 L636.61 148.75 L637.57 148.5 L638.53 148.22 L639.5 147.93 L640.46 147.62 L641.42 147.28 L642.38 146.92 L643.35 146.53 L644.31 146.11 L645.27 145.66 L646.24 145.18 L647.2 144.67 L648.16 144.11 L649.13 143.52 L650.09 142.88 L651.05 142.19 L652.01 141.46 L652.98 140.67 L653.94 139.82 L654.9 138.91 L655.87 137.93 L656.83 136.89 L657.79 135.76 L658.76 134.55 L659.72 133.25 L660.68 131.86 L661.65 130.37 L662.61 128.76 L663.57 127.04 L664.53 125.19 L665.5 123.21 L666.46 121.08 L667.42 118.79 L668.39 116.33 L669.35 113.7 L670.31 110.87 L671.28 107.83 L672.24 104.57 L673.2 101.08 L674.16 97.32 L675.13 93.29 L676.09 88.96 L677.05 84.31 L678.02 79.32 L678.98 73.97" stroke="#ee9b96" stroke-width="1" fill="none" stroke-opacity="0.7"/>
<path d="M602.9 151.95 L603.86 151.93 L604.83 151.91 L605.79 151.88 L606.75 151.86 L607.72 151.83 L608.68 151.81 L609.64 151.78 L610.6 151.74 L611.57 151.71 L612.53 151.67 L613.49 151.63 L614.46 151.59 L615.42 151.55 L616.38 151.5 L617.35 151.45 L618.31 151.39 L619.27 151.33 L620.23 151.27 L621.2 151.2 L622.16 151.12 L623.12 151.04 L624.09 150.96 L625.05 150.87 L626.01 150.77 L626.98 150.66 L627.94 150.55 L628.9 150.43 L629.87 150.29 L630.83 150.15 L631.79 150 L632.75 149.84 L633.72 149.67 L634.68 149.48 L635.64 149.28 L636.61 149.06 L637.57 148.83 L638.53 148.59 L639.5 148.32 L640.46 148.03 L641.42 147.73 L642.38 147.4 L643.35 147.04 L644.31 146.67 L645.27 146.26 L646.24 145.82 L647.2 145.35 L648.16 144.85 L649.13 144.31 L650.09 143.73 L651.05 143.1 L652.01 142.44 L652.98 141.72 L653.94 140.95 L654.9 140.12 L655.87 139.23 L656.83 138.28 L657.79 137.26 L658.76 136.16 L659.72 134.98 L660.68 133.71 L661.65 132.35 L662.61 130.89 L663.57 129.33 L664.53 127.65 L665.5 125.84 L666.46 123.91 L667.42 121.83 L668.39 119.6 L669.35 117.2 L670.31 114.63 L671.28 111.87 L672.24 108.9 L673.2 105.72 L674.16 102.31 L675.13 98.64 L676.09 94.71 L677.05 90.48 L678.02 85.95 L678.98 81.08" stroke="#ee9b96" stroke-width="1" fill="none" stroke-opacity="0.7"/>
<path d="M602.9 151.97 L603.86 151.95 L604.83 151.93 L605.79 151.91 L606.75 151.89 L607.72 151.86 L608.68 151.84 L609.64 151.81 L610.6 151.78 L611.57 151.75 L612.53 151.72 L613.49 151.68 L614.46 151.64 L615.42 151.6 L616.38 151.56 L617.35 151.51 L618.31 151.46 L619.27 151.4 L620.23 151.34 L621.2 151.28 L622.16 151.21 L623.12 151.14 L624.09 151.06 L625.05 150.97 L626.01 150.88 L626.98 150.78 L627.94 150.68 L628.9 150.57 L629.87 150.45 L630.83 150.32 L631.79 150.18 L632.75 150.03 L633.72 149.87 L634.68 149.7 L635.64 149.51 L636.61 149.32 L637.57 149.1 L638.53 148.88 L639.5 148.63 L640.46 148.37 L641.42 148.09 L642.38 147.78 L643.35 147.46 L644.31 147.11 L645.27 146.73 L646.24 146.33 L647.2 145.9 L648.16 145.44 L649.13 144.94 L650.09 144.41 L651.05 143.83 L652.01 143.22 L652.98 142.56 L653.94 141.85 L654.9 141.09 L655.87 140.27 L656.83 139.39 L657.79 138.45 L658.76 137.44 L659.72 136.36 L660.68 135.19 L661.65 133.94 L662.61 132.6 L663.57 131.16 L664.53 129.61 L665.5 127.95 L666.46 126.17 L667.42 124.26 L668.39 122.21 L669.35 120 L670.31 117.64 L671.28 115.1 L672.24 112.37 L673.2 109.44 L674.16 106.3 L675.13 102.93 L676.09 99.31 L677.05 95.42 L678.02 91.25 L678.98 86.77" stroke="#ee9b96" stroke-width="1" fill="none" stroke-opacity="0.7"/>
<path d="M602.9 151.99 L603.86 151.98 L604.83 151.96 L605.79 151.94 L606.75 151.92 L607.72 151.9 L608.68 151.88 L609.64 151.85 L610.6 151.83 L611.57 151.8 L612.53 151.77 L613.49 151.74 L614.46 151.7 L615.42 151.67 L616.38 151.63 L617.35 151.58 L618.31 151.54 L619.27 151.49 L620.23 151.44 L621.2 151.38 L622.16 151.32 L623.12 151.25 L624.09 151.18 L625.05 151.11 L626.01 151.03 L626.98 150.94 L627.94 150.85 L628.9 150.75 L629.87 150.64 L630.83 150.52 L631.79 150.4 L632.75 150.27 L633.72 150.12 L634.68 149.97 L635.64 149.81 L636.61 149.63 L637.57 149.44 L638.53 149.24 L639.5 149.02 L640.46 148.79 L641.42 148.53 L642.38 148.26 L643.35 147.97 L644.31 147.66 L645.27 147.33 L646.24 146.97 L647.2 146.59 L648.16 146.17 L649.13 145.73 L650.09 145.25 L651.05 144.74 L652.01 144.19 L652.98 143.61 L653.94 142.97 L654.9 142.3 L655.87 141.57 L656.83 140.79 L657.79 139.95 L658.76 139.05 L659.72 138.08 L660.68 137.04 L661.65 135.93 L662.61 134.73 L663.57 133.45 L664.53 132.07 L665.5 130.59 L666.46 129 L667.42 127.3 L668.39 125.47 L669.35 123.5 L670.31 121.39 L671.28 119.13 L672.24 116.7 L673.2 114.09 L674.16 111.29 L675.13 108.29 L676.09 105.06 L677.05 101.6 L678.02 97.88 L678.98 93.89" stroke="#ee9b96" stroke-width="1" fill="none" stroke-opacity="0.7"/>
<path d="M602.9 152.01 L603.86 152 L604.83 151.98 L605.79 151.97 L606.75 151.95 L607.72 151.93 L608.68 151.91 L609.64 151.89 L610.6 151.87 L611.57 151.84 L612.53 151.81 L613.49 151.78 L614.46 151.75 L615.42 151.72 L616.38 151.68 L617.35 151.64 L618.31 151.6 L619.27 151.56 L620.23 151.51 L621.2 151.46 L622.16 151.41 L623.12 151.35 L624.09 151.28 L625.05 151.21 L626.01 151.14 L626.98 151.06 L627.94 150.98 L628.9 150.89 L629.87 150.79 L630.83 150.69 L631.79 150.58 L632.75 150.46 L633.72 150.33 L634.68 150.19 L635.64 150.04 L636.61 149.88 L637.57 149.71 L638.53 149.53 L639.5 149.33 L640.46 149.12 L641.42 148.89 L642.38 148.65 L643.35 148.39 L644.31 148.11 L645.27 147.81 L646.24 147.48 L647.2 147.13 L648.16 146.76 L649.13 146.36 L650.09 145.93 L651.05 145.47 L652.01 144.98 L652.98 144.45 L653.94 143.87 L654.9 143.26 L655.87 142.61 L656.83 141.9 L657.79 141.14 L658.76 140.33 L659.72 139.46 L660.68 138.52 L661.65 137.52 L662.61 136.44 L663.57 135.28 L664.53 134.03 L665.5 132.7 L666.46 131.27 L667.42 129.73 L668.39 128.08 L669.35 126.3 L670.31 124.4 L671.28 122.36 L672.24 120.16 L673.2 117.81 L674.16 115.28 L675.13 112.57 L676.09 109.66 L677.05 106.53 L678.02 103.18 L678.98 99.58" stroke="#ee9b96" stroke-width="1" fill="none" stroke-opacity="0.7"/>
<path d="M602.9 152.04 L603.86 152.03 L604.83 152.01 L605.79 152 L606.75 151.98 L607.72 151.97 L608.68 151.95 L609.64 151.93 L610.6 151.91 L611.57 151.89 L612.53 151.87 L613.49 151.84 L614.46 151.81 L615.42 151.79 L616.38 151.75 L617.35 151.72 L618.31 151.69 L619.27 151.65 L620.23 151.61 L621.2 151.56 L622.16 151.51 L623.12 151.46 L624.09 151.41 L625.05 151.35 L626.01 151.29 L626.98 151.22 L627.94 151.15 L628.9 151.07 L629.87 150.98 L630.83 150.89 L631.79 150.8 L632.75 150.69 L633.72 150.58 L634.68 150.46 L635.64 150.33 L636.61 150.2 L637.57 150.05 L638.53 149.89 L639.5 149.72 L640.46 149.54 L641.42 149.34 L642.38 149.13 L643.35 148.9 L644.31 148.66 L645.27 148.4 L646.24 148.12 L647.2 147.82 L648.16 147.5 L649.13 147.15 L650.09 146.78 L651.05 146.38 L652.01 145.95 L652.98 145.49 L653.94 145 L654.9 144.47 L655.87 143.9 L656.83 143.29 L657.79 142.64 L658.76 141.94 L659.72 141.18 L660.68 140.37 L661.65 139.5 L662.61 138.57 L663.57 137.57 L664.53 136.49 L665.5 135.33 L666.46 134.1 L667.42 132.76 L668.39 131.34 L669.35 129.8 L670.31 128.16 L671.28 126.39 L672.24 124.49 L673.2 122.46 L674.16 120.27 L675.13 117.93 L676.09 115.41 L677.05 112.71 L678.02 109.8 L678.98 106.69" stroke="#ee9b96" stroke-width="1" fill="none" stroke-opacity="0.7"/>
<path d="M602.9 152.06 L603.86 152.04 L604.83 152.03 L605.79 152.02 L606.75 152.01 L607.72 151.99 L608.68 151.98 L609.64 151.96 L610.6 151.94 L611.57 151.92 L612.53 151.9 L613.49 151.88 L614.46 151.85 L615.42 151.83 L616.38 151.8 L617.35 151.77 L618.31 151.73 L619.27 151.7 L620.23 151.66 L621.2 151.62 L622.16 151.58 L623.12 151.53 L624.09 151.48 L625.05 151.43 L626.01 151.37 L626.98 151.31 L627.94 151.25 L628.9 151.17 L629.87 151.1 L630.83 151.02 L631.79 150.93 L632.75 150.84 L633.72 150.73 L634.68 150.63 L635.64 150.51 L636.61 150.39 L637.57 150.25 L638.53 150.11 L639.5 149.95 L640.46 149.79 L641.42 149.61 L642.38 149.42 L643.35 149.21 L644.31 148.99 L645.27 148.76 L646.24 148.5 L647.2 148.23 L648.16 147.94 L649.13 147.63 L650.09 147.29 L651.05 146.93 L652.01 146.54 L652.98 146.12 L653.94 145.68 L654.9 145.2 L655.87 144.68 L656.83 144.13 L657.79 143.54 L658.76 142.9 L659.72 142.21 L660.68 141.48 L661.65 140.69 L662.61 139.85 L663.57 138.94 L664.53 137.96 L665.5 136.92 L666.46 135.79 L667.42 134.59 L668.39 133.29 L669.35 131.9 L670.31 130.41 L671.28 128.81 L672.24 127.09 L673.2 125.25 L674.16 123.27 L675.13 121.14 L676.09 118.86 L677.05 116.41 L678.02 113.78 L678.98 110.96" stroke="#ee9b96" stroke-width="1" fill="none" stroke-opacity="0.7"/>
<path d="M602.9 152.07 L603.86 152.06 L604.83 152.05 L605.79 152.04 L606.75 152.03 L607.72 152.01 L608.68 152 L609.64 151.98 L610.6 151.97 L611.57 151.95 L612.53 151.93 L613.49 151.91 L614.46 151.89 L615.42 151.86 L616.38 151.84 L617.35 151.81 L618.31 151.78 L619.27 151.75 L620.23 151.72 L621.2 151.68 L622.16 151.64 L623.12 151.6 L624.09 151.56 L625.05 151.51 L626.01 151.46 L626.98 151.4 L627.94 151.34 L628.9 151.28 L629.87 151.21 L630.83 151.14 L631.79 151.06 L632.75 150.98 L633.72 150.89 L634.68 150.79 L635.64 150.69 L636.61 150.57 L637.57 150.45 L638.53 150.32 L639.5 150.19 L640.46 150.04 L641.42 149.88 L642.38 149.71 L643.35 149.52 L644.31 149.33 L645.27 149.11 L646.24 148.89 L647.2 148.64 L648.16 148.38 L649.13 148.1 L650.09 147.8 L651.05 147.47 L652.01 147.13 L652.98 146.75 L653.94 146.35 L654.9 145.92 L655.87 145.46 L656.83 144.96 L657.79 144.43 L658.76 143.86 L659.72 143.25 L660.68 142.59 L661.65 141.88 L662.61 141.13 L663.57 140.31 L664.53 139.44 L665.5 138.5 L666.46 137.49 L667.42 136.41 L668.39 135.25 L669.35 134 L670.31 132.67 L671.28 131.23 L672.24 129.69 L673.2 128.04 L674.16 126.26 L675.13 124.35 L676.09 122.31 L677.05 120.11 L678.02 117.75 L678.98 115.22" stroke="#ee9b96" stroke-width="1" fill="none" stroke-opacity="0.7"/>
<path d="M602.9 152.09 L603.86 152.08 L604.83 152.07 L605.79 152.06 L606.75 152.05 L607.72 152.04 L608.68 152.02 L609.64 152.01 L610.6 152 L611.57 151.98 L612.53 151.96 L613.49 151.94 L614.46 151.93 L615.42 151.9 L616.38 151.88 L617.35 151.86 L618.31 151.83 L619.27 151.8 L620.23 151.78 L621.2 151.74 L622.16 151.71 L623.12 151.67 L624.09 151.63 L625.05 151.59 L626.01 151.55 L626.98 151.5 L627.94 151.44 L628.9 151.39 L629.87 151.33 L630.83 151.26 L631.79 151.19 L632.75 151.12 L633.72 151.04 L634.68 150.95 L635.64 150.86 L636.61 150.76 L637.57 150.66 L638.53 150.54 L639.5 150.42 L640.46 150.29 L641.42 150.15 L642.38 150 L643.35 149.83 L644.31 149.66 L645.27 149.47 L646.24 149.27 L647.2 149.05 L648.16 148.82 L649.13 148.57 L650.09 148.31 L651.05 148.02 L652.01 147.71 L652.98 147.38 L653.94 147.03 L654.9 146.65 L655.87 146.24 L656.83 145.8 L657.79 145.33 L658.76 144.82 L659.72 144.28 L660.68 143.7 L661.65 143.07 L662.61 142.4 L663.57 141.68 L664.53 140.91 L665.5 140.08 L666.46 139.19 L667.42 138.23 L668.39 137.21 L669.35 136.1 L670.31 134.92 L671.28 133.65 L672.24 132.29 L673.2 130.83 L674.16 129.25 L675.13 127.57 L676.09 125.76 L677.05 123.82 L678.02 121.73 L678.98 119.49" stroke="#ee9b96" stroke-width="1" fill="none" stroke-opacity="0.7"/>
<path d="M602.9 152.1 L603.86 152.1 L604.83 152.09 L605.79 152.08 L606.75 152.07 L607.72 152.06 L608.68 152.05 L609.64 152.04 L610.6 152.02 L611.57 152.01 L612.53 151.99 L613.49 151.98 L614.46 151.96 L615.42 151.94 L616.38 151.92 L617.35 151.9 L618.31 151.88 L619.27 151.86 L620.23 151.83 L621.2 151.8 L622.16 151.77 L623.12 151.74 L624.09 151.71 L625.05 151.67 L626.01 151.63 L626.98 151.59 L627.94 151.54 L628.9 151.5 L629.87 151.44 L630.83 151.39 L631.79 151.33 L632.75 151.26 L633.72 151.19 L634.68 151.12 L635.64 151.04 L636.61 150.95 L637.57 150.86 L638.53 150.76 L639.5 150.65 L640.46 150.54 L641.42 150.42 L642.38 150.28 L643.35 150.14 L644.31 149.99 L645.27 149.83 L646.24 149.65 L647.2 149.47 L648.16 149.26 L649.13 149.05 L650.09 148.82 L651.05 148.57 L652.01 148.3 L652.98 148.01 L653.94 147.7 L654.9 147.37 L655.87 147.02 L656.83 146.64 L657.79 146.23 L658.76 145.79 L659.72 145.32 L660.68 144.81 L661.65 144.27 L662.61 143.68 L663.57 143.06 L664.53 142.38 L665.5 141.66 L666.46 140.89 L667.42 140.06 L668.39 139.16 L669.35 138.21 L670.31 137.18 L671.28 136.07 L672.24 134.89 L673.2 133.61 L674.16 132.25 L675.13 130.78 L676.09 129.21 L677.05 127.52 L678.02 125.71 L678.98 123.76" stroke="#ee9b96" stroke-width="1" fill="none" stroke-opacity="0.7"/>
<path d="M602.9 152.12 L603.86 152.11 L604.83 152.11 L605.79 152.1 L606.75 152.09 L607.72 152.08 L608.68 152.07 L609.64 152.06 L610.6 152.05 L611.57 152.04 L612.53 152.03 L613.49 152.01 L614.46 152 L615.42 151.98 L616.38 151.97 L617.35 151.95 L618.31 151.93 L619.27 151.91 L620.23 151.89 L621.2 151.86 L622.16 151.84 L623.12 151.81 L624.09 151.78 L625.05 151.75 L626.01 151.72 L626.98 151.68 L627.94 151.64 L628.9 151.6 L629.87 151.56 L630.83 151.51 L631.79 151.46 L632.75 151.4 L633.72 151.34 L634.68 151.28 L635.64 151.21 L636.61 151.14 L637.57 151.06 L638.53 150.98 L639.5 150.89 L640.46 150.79 L641.42 150.68 L642.38 150.57 L643.35 150.45 L644.31 150.32 L645.27 150.19 L646.24 150.04 L647.2 149.88 L648.16 149.71 L649.13 149.52 L650.09 149.32 L651.05 149.11 L652.01 148.89 L652.98 148.64 L653.94 148.38 L654.9 148.1 L655.87 147.8 L656.83 147.47 L657.79 147.12 L658.76 146.75 L659.72 146.35 L660.68 145.92 L661.65 145.46 L662.61 144.96 L663.57 144.43 L664.53 143.86 L665.5 143.24 L666.46 142.59 L667.42 141.88 L668.39 141.12 L669.35 140.31 L670.31 139.43 L671.28 138.49 L672.24 137.49 L673.2 136.4 L674.16 135.24 L675.13 134 L676.09 132.66 L677.05 131.22 L678.02 129.68 L678.98 128.03" stroke="#ee9b96" stroke-width="1" fill="none" stroke-opacity="0.7"/>
<path d="M602.9 149.64 L603.86 149.52 L604.83 149.4 L605.79 149.27 L606.75 149.13 L607.72 148.99 L608.68 148.84 L609.64 148.68 L610.6 148.51 L611.57 148.34 L612.53 148.16 L613.49 147.97 L614.46 147.78 L615.42 147.57 L616.38 147.35 L617.35 147.13 L618.31 146.89 L619.27 146.64 L620.23 146.38 L621.2 146.11 L622.16 145.83 L623.12 145.53 L624.09 145.22 L625.05 144.89 L626.01 144.55 L626.98 144.19 L627.94 143.82 L628.9 143.43 L629.87 143.02 L630.83 142.59 L631.79 142.14 L632.75 141.67 L633.72 141.18 L634.68 140.67 L635.64 140.13 L636.61 139.57 L637.57 138.98 L638.53 138.36 L639.5 137.71 L640.46 137.04 L641.42 136.33 L642.38 135.59 L643.35 134.82 L644.31 134.01 L645.27 133.16 L646.24 132.27 L647.2 131.34 L648.16 130.37 L649.13 129.35 L650.09 128.28 L651.05 127.17 L652.01 126 L652.98 124.78 L653.94 123.5 L654.9 122.16 L655.87 120.76 L656.83 119.29 L657.79 117.76 L658.76 116.15 L659.72 114.47 L660.68 112.71 L661.65 110.87 L662.61 108.94 L663.57 106.92 L664.53 104.81 L665.5 102.6 L666.46 100.29 L667.42 97.87 L668.39 95.34 L669.35 92.68 L670.31 89.91 L671.28 87 L672.24 83.96 L673.2 80.78 L674.16 77.45 L675.13 73.97 L676.09 70.32 L677.05 66.5 L678.02 62.51 L678.98 58.32" stroke="#ee9b96" stroke-width="1" fill="none" stroke-opacity="0.7"/>
<path d="M602.9 150.7 L603.86 150.62 L604.83 150.54 L605.79 150.45 L606.75 150.36 L607.72 150.26 L608.68 150.16 L609.64 150.05 L610.6 149.94 L611.57 149.83 L612.53 149.7 L613.49 149.57 L614.46 149.43 L615.42 149.29 L616.38 149.14 L617.35 148.98 L618.31 148.81 L619.27 148.63 L620.23 148.45 L621.2 148.25 L622.16 148.05 L623.12 147.83 L624.09 147.61 L625.05 147.37 L626.01 147.11 L626.98 146.85 L627.94 146.57 L628.9 146.28 L629.87 145.97 L630.83 145.65 L631.79 145.31 L632.75 144.95 L633.72 144.57 L634.68 144.17 L635.64 143.76 L636.61 143.32 L637.57 142.86 L638.53 142.37 L639.5 141.86 L640.46 141.32 L641.42 140.76 L642.38 140.16 L643.35 139.54 L644.31 138.88 L645.27 138.19 L646.24 137.46 L647.2 136.69 L648.16 135.89 L649.13 135.04 L650.09 134.15 L651.05 133.21 L652.01 132.22 L652.98 131.18 L653.94 130.09 L654.9 128.94 L655.87 127.73 L656.83 126.46 L657.79 125.12 L658.76 123.72 L659.72 122.24 L660.68 120.68 L661.65 119.04 L662.61 117.32 L663.57 115.51 L664.53 113.6 L665.5 111.6 L666.46 109.49 L667.42 107.27 L668.39 104.94 L669.35 102.48 L670.31 99.9 L671.28 97.18 L672.24 94.33 L673.2 91.32 L674.16 88.16 L675.13 84.83 L676.09 81.33 L677.05 77.65 L678.02 73.78 L678.98 69.7" stroke="#ee9b96" stroke-width="1" fill="none" stroke-opacity="0.7"/>
<path d="M602.9 146.22 L604.85 146.36 L606.8 146.49 L608.75 146.59 L610.7 146.65 L612.65 146.65 L614.6 146.61 L616.56 146.52 L618.51 146.39 L620.46 146.25 L622.41 146.1 L624.36 145.97 L626.31 145.87 L628.26 145.81 L630.21 145.8 L632.16 145.84 L634.11 145.93 L636.06 146.05 L638.01 146.19 L639.96 146.33 L641.92 146.46 L643.87 146.55 L645.82 146.6 L647.77 146.6 L649.72 146.54 L651.67 146.44 L653.62 146.3 L655.57 146.13 L657.52 145.96 L659.47 145.8 L661.42 145.66 L663.37 145.56 L665.32 145.5 L667.28 145.48 L669.23 145.49 L671.18 145.52 L673.13 145.56 L675.08 145.57 L677.03 145.54 L678.98 145.45" stroke="#a3d0ea" stroke-width="1.1" fill="none"/>
<path d="M602.9 148.54 L605.52 148.51 L608.15 148.54 L610.77 148.61 L613.39 148.73 L616.02 148.88 L618.64 149.05 L621.26 149.22 L623.89 149.38 L626.51 149.51 L629.13 149.6 L631.76 149.64 L634.38 149.64 L637 149.58 L639.63 149.47 L642.25 149.33 L644.88 149.17 L647.5 149 L650.12 148.83 L652.75 148.69 L655.37 148.58 L657.99 148.52 L660.62 148.51 L663.24 148.55 L665.86 148.64 L668.49 148.77 L671.11 148.93 L673.73 149.1 L676.36 149.27 L678.98 149.42" stroke="#bbbbbb" stroke-width="1" fill="none"/>
<path d="M602.9 152 L603.86 151.98 L604.83 151.97 L605.79 151.95 L606.75 151.93 L607.72 151.91 L608.68 151.89 L609.64 151.87 L610.6 151.84 L611.57 151.81 L612.53 151.79 L613.49 151.75 L614.46 151.72 L615.42 151.69 L616.38 151.65 L617.35 151.61 L618.31 151.56 L619.27 151.51 L620.23 151.46 L621.2 151.41 L622.16 151.35 L623.12 151.29 L624.09 151.22 L625.05 151.14 L626.01 151.07 L626.98 150.98 L627.94 150.89 L628.9 150.8 L629.87 150.69 L630.83 150.58 L631.79 150.46 L632.75 150.33 L633.72 150.2 L634.68 150.05 L635.64 149.89 L636.61 149.72 L637.57 149.54 L638.53 149.34 L639.5 149.13 L640.46 148.9 L641.42 148.66 L642.38 148.4 L643.35 148.12 L644.31 147.82 L645.27 147.5 L646.24 147.15 L647.2 146.78 L648.16 146.38 L649.13 145.95 L650.09 145.49 L651.05 145 L652.01 144.47 L652.98 143.9 L653.94 143.29 L654.9 142.63 L655.87 141.93 L656.83 141.18 L657.79 140.37 L658.76 139.5 L659.72 138.56 L660.68 137.56 L661.65 136.48 L662.61 135.33 L663.57 134.09 L664.53 132.76 L665.5 131.33 L666.46 129.79 L667.42 128.15 L668.39 126.38 L669.35 124.48 L670.31 122.45 L671.28 120.26 L672.24 117.91 L673.2 115.39 L674.16 112.69 L675.13 109.79 L676.09 106.67 L677.05 103.32 L678.02 99.73 L678.98 95.88" stroke="#d42a20" stroke-width="1.6" fill="none"/>
<path d="M602.9 152.65 L603.86 152.65 L604.83 152.64 L605.79 152.63 L606.75 152.62 L607.72 152.61 L608.68 152.6 L609.64 152.59 L610.6 152.58 L611.57 152.56 L612.53 152.55 L613.49 152.54 L614.46 152.52 L615.42 152.5 L616.38 152.49 L617.35 152.47 L618.31 152.45 L619.27 152.43 L620.23 152.41 L621.2 152.38 L622.16 152.36 L623.12 152.33 L624.09 152.31 L625.05 152.28 L626.01 152.24 L626.98 152.21 L627.94 152.18 L628.9 152.14 L629.87 152.1 L630.83 152.05 L631.79 152.01 L632.75 151.96 L633.72 151.91 L634.68 151.86 L635.64 151.8 L636.61 151.74 L637.57 151.67 L638.53 151.6 L639.5 151.53 L640.46 151.45 L641.42 151.37 L642.38 151.28 L643.35 151.19 L644.31 151.09 L645.27 150.98 L646.24 150.87 L647.2 150.75 L648.16 150.62 L649.13 150.48 L650.09 150.34 L651.05 150.19 L652.01 150.03 L652.98 149.85 L653.94 149.67 L654.9 149.48 L655.87 149.27 L656.83 149.05 L657.79 148.82 L658.76 148.57 L659.72 148.3 L660.68 148.02 L661.65 147.73 L662.61 147.41 L663.57 147.07 L664.53 146.72 L665.5 146.34 L666.46 145.93 L667.42 145.5 L668.39 145.05 L669.35 144.56 L670.31 144.05 L671.28 143.5 L672.24 142.92 L673.2 142.31 L674.16 141.65 L675.13 140.95 L676.09 140.21 L677.05 139.42 L678.02 138.59 L678.98 137.7" stroke="#111" stroke-width="1.6" fill="none"/>
<path d="M602.9 151.91 L606.9 151.84 L610.91 151.78 L614.91 151.71 L618.92 151.65 L622.92 151.58 L626.93 151.51 L630.93 151.44 L634.93 151.36 L638.94 151.28 L642.94 151.2 L646.95 151.11 L650.95 151.01 L654.95 150.9 L658.96 150.79 L662.96 150.66 L666.97 150.51 L670.97 150.35 L674.98 150.15 L678.98 149.93" stroke="#3a48b0" stroke-width="1.3" fill="none"/>
<line x1="609.6" y1="47.9" x2="624.8" y2="47.9" stroke="#111" stroke-width="1.5"/>
<text x="629.6" y="53.1" font-style="italic">Orai1</text>
<line x1="609.6" y1="63.4" x2="624.8" y2="63.4" stroke="#d42a20" stroke-width="1.5"/>
<text x="629.6" y="68.6" font-style="italic">Orai2</text>
<line x1="609.6" y1="78.9" x2="624.8" y2="78.9" stroke="#3a48b0" stroke-width="1.5"/>
<text x="629.6" y="84.1" font-style="italic">Orai3</text>
<text x="0.3" y="223.4" font-size="16" font-weight="bold">d</text>
<text x="24.3" y="231">Group I mGluR stimulation</text>
<text x="130.6" y="250">Wild type</text>
<text x="365" y="250.3" fill="#d8302a">Orai2<tspan font-size="10.5" dy="-2.4">&#8722;/&#8722;</tspan></text>
<path d="M37 258.7 L45.5 266.1 L53.7 260" stroke="#111111" stroke-width="1.5" fill="none"/>
<line x1="45.5" y1="266.1" x2="45.5" y2="343" stroke="#111111" stroke-width="1.5"/>
<path d="M45.5,342.1 L61.7,372.1 L30,372.1 Z" stroke="#111111" stroke-width="1.7" fill="#9cc60c" stroke-linejoin="miter"/>
<path d="M52.6,354.6 L68.9,346.3 L69.3,353.4 L54.4,357.6 Z" stroke="none" stroke-width="0" fill="#9cc60c"/>
<line x1="52.6" y1="354.4" x2="71.6" y2="344.5" stroke="#111111" stroke-width="1.5"/>
<line x1="54.4" y1="357.4" x2="74.6" y2="352.9" stroke="#111111" stroke-width="1.5"/>
<line x1="69.1" y1="346.2" x2="69.1" y2="353.6" stroke="#111111" stroke-width="1.4"/>
<path d="M65.7 350.9 L89.4 343.4 L91.6 352.9" stroke="#111111" stroke-width="1.4" fill="none"/>
<line x1="85" y1="355.1" x2="98.5" y2="351.4" stroke="#111111" stroke-width="1.3"/>
<line x1="86.9" y1="356.9" x2="97.8" y2="354.3" stroke="#111111" stroke-width="1.3"/>
<line x1="91.2" y1="358.7" x2="95.3" y2="357.6" stroke="#111111" stroke-width="1.3"/>
<line x1="14.2" y1="342.7" x2="30.5" y2="352.6" stroke="#111111" stroke-width="1.5"/>
<line x1="11" y1="350.3" x2="29.5" y2="355.2" stroke="#111111" stroke-width="1.5"/>
<circle cx="30.5" cy="354" r="1.5" fill="#fff" stroke="#111111" stroke-width="1.2"/>
<text x="0.6" y="332.1">DHPG</text>
<text x="56" y="332.1" fill="#9cc60c">OGB-1</text>
<text x="96.8" y="374.4">&#916;F/F</text>
<text x="114.8" y="407.1">DHPG</text>
<line x1="133" y1="371.7" x2="178" y2="371.7" stroke="#8a8a8a" stroke-width="1.2" stroke-dasharray="2.6 2.2"/>
<path d="M132.1 371.2 L133.5 370.6 L135 370.8 L136.2 367.8 L137.2 368.2 L137.6 367.69 L137.75 340.99 L137.9 315.8 L138.05 288.12 L138.2 275.49 L138.35 271.42 L138.5 268.55 L138.65 266.57 L138.8 265.2 L138.95 264.13 L139.1 263.22 L139.25 262.48 L139.4 261.9 L139.55 261.48 L139.7 261.18 L139.85 260.91 L140 260.71 L140.15 260.61 L140.2 260.6 L140.6 260.72 L141 261 L141.4 261.37 L141.8 261.9 L142.2 262.68 L142.6 264.04 L143 264.18 L143.4 265.9 L143.8 267 L144.2 268.49 L144.6 270.16 L145 271.55 L145.4 273.78 L145.8 275.61 L146.2 278.58 L146.6 280.3 L147 282.68 L147.4 285.36 L147.8 288.07 L148.2 290.88 L148.6 294 L149 297.28 L149.4 300.63 L149.8 304.66 L150.2 308.34 L150.6 312.26 L151 316.24 L151.4 319.35 L151.8 322.05 L152.2 324.83 L152.6 327.47 L153 330.01 L153.4 331.63 L153.8 333.62 L154.2 335.78 L154.6 337.24 L155 339.12 L155.4 341.04 L155.8 342.58 L156.2 343.99 L156.6 345.53 L157 346.16 L157.4 348.17 L157.8 348.93 L158.2 349.91 L158.6 351.38 L159 352.51 L159.4 353.29 L159.8 354.13 L160.2 355.27 L160.6 356.14 L161 357.26 L161.4 357.91 L161.8 358.54 L162.2 359.41 L162.6 359.78 L163 360.22 L163.4 361.06 L163.8 361.58 L164.2 361.93 L164.6 362.3 L165 362.96 L165.4 362.86 L165.8 363.93 L166.2 364.29 L166.6 364.26 L167 364.97 L167.4 365.11 L167.8 365.79 L168.2 365.55 L168.6 366.07 L169 366.67 L169.4 367.02 L169.8 366.61 L170.2 367.18 L170.6 367.58 L171 367.63 L171.4 368.3 L171.8 367.97 L172.2 368.5 L172.6 368.43 L173 369.12 L173.4 369.03 L173.8 369.15 L174.2 369.06 L174.6 369.91 L175 369.88 L175.4 370.02 L175.8 370.23 L176.2 370.19 L176.6 370.1 L177 370.16 L177.4 370.23 L177.8 370.72" stroke="#111111" stroke-width="1.9" fill="none"/>
<line x1="205" y1="371.8" x2="250" y2="371.8" stroke="#8a8a8a" stroke-width="1.2" stroke-dasharray="2.6 2.2"/>
<path d="M204.1 371.1 L206 370.6 L207.5 366.4 L208.7 366.6 L208.8 366.65 L208.95 347.67 L209.1 330.24 L209.25 314.28 L209.4 297.78 L209.55 285.47 L209.7 280.84 L209.85 277.72 L210 275.33 L210.15 273.54 L210.3 272.22 L210.45 271.21 L210.6 270.38 L210.75 269.69 L210.9 269.15 L211.05 268.73 L211.2 268.41 L211.35 268.13 L211.5 267.94 L211.6 267.9 L212 268.22 L212.4 268.98 L212.8 270.1 L213.2 272.25 L213.6 275.14 L214 278 L214.4 281.48 L214.8 285.49 L215.2 289.99 L215.6 294.61 L216 298.68 L216.4 302.63 L216.8 306.37 L217.2 309.31 L217.6 311.62 L218 313.7 L218.4 315.62 L218.8 317.64 L219.2 319.36 L219.6 321.38 L220 322.87 L220.4 324.95 L220.8 326.9 L221.2 329.12 L221.6 331.19 L222 333.81 L222.4 335.74 L222.8 337.83 L223.2 339.11 L223.6 341.33 L224 342.98 L224.4 344.73 L224.8 345.56 L225.2 347.61 L225.6 348.9 L226 349.7 L226.4 350.99 L226.8 352.2 L227.2 353.5 L227.6 354.68 L228 355.96 L228.4 356.45 L228.8 357.51 L229.2 358.19 L229.6 359.23 L230 359.66 L230.4 360.38 L230.8 360.46 L231.2 361.19 L231.6 361.61 L232 362.59 L232.4 362.93 L232.8 363.21 L233.2 363.64 L233.6 364.27 L234 364.45 L234.4 364.79 L234.8 365.43 L235.2 366.17 L235.6 365.94 L236 366.16 L236.4 366.29 L236.8 366.48 L237.2 367.04 L237.6 367.27 L238 367.25 L238.4 367.46 L238.8 367.56 L239.2 367.71 L239.6 367.51 L240 367.86 L240.4 368.11 L240.8 368.06 L241.2 368.24 L241.6 368.29 L242 368.51 L242.4 368.85 L242.8 368.71 L243.2 368.86 L243.6 369.16 L244 369.22 L244.4 369.52 L244.8 368.84 L245.2 369.51 L245.6 369.32 L246 369.51 L246.4 369.71 L246.8 369.82 L247.2 369.86 L247.6 369.73 L248 370.07 L248.4 369.72 L248.8 369.78 L249.2 369.99 L249.6 369.73 L250 370.28" stroke="#111111" stroke-width="1.9" fill="none"/>
<line x1="276" y1="371.6" x2="321" y2="371.6" stroke="#333" stroke-width="0.9" stroke-dasharray="2.6 2.2"/>
<path d="M274.9 371.1 L276.8 370.6 L278.2 366.4 L279.2 366.6 L279.3 366.44 L279.45 346.6 L279.6 328.38 L279.75 311.69 L279.9 294.44 L280.05 281.57 L280.2 276.73 L280.35 273.46 L280.5 270.97 L280.65 269.1 L280.8 267.71 L280.95 266.66 L281.1 265.79 L281.25 265.08 L281.4 264.51 L281.55 264.07 L281.7 263.74 L281.85 263.44 L282 263.24 L282.1 263.2 L282.5 263.38 L282.9 263.82 L283.3 264.39 L283.7 264.96 L284.1 265.54 L284.5 266.4 L284.9 267.39 L285.3 267.83 L285.7 268.82 L286.1 270.38 L286.5 272.35 L286.9 274.26 L287.3 276.83 L287.7 279.24 L288.1 282.07 L288.5 284.04 L288.9 286.83 L289.3 289.09 L289.7 291.73 L290.1 294.51 L290.5 297.12 L290.9 300.01 L291.3 302.67 L291.7 304.79 L292.1 307.05 L292.5 309.34 L292.9 311.09 L293.3 313.05 L293.7 314.89 L294.1 316.55 L294.5 318.94 L294.9 320.37 L295.3 322.83 L295.7 324.73 L296.1 327.08 L296.5 329.02 L296.9 331.07 L297.3 333.48 L297.7 335.42 L298.1 337.53 L298.5 339.48 L298.9 341.19 L299.3 342.72 L299.7 344.01 L300.1 345.5 L300.5 346.43 L300.9 348.11 L301.3 349.12 L301.7 350.77 L302.1 351.93 L302.5 352.36 L302.9 353.8 L303.3 354.72 L303.7 355.46 L304.1 356.63 L304.5 357.24 L304.9 357.73 L305.3 358.73 L305.7 359.42 L306.1 360.13 L306.5 360.49 L306.9 361.48 L307.3 362.1 L307.7 362.3 L308.1 362.95 L308.5 363.6 L308.9 364.02 L309.3 364.97 L309.7 365.14 L310.1 365.35 L310.5 365.82 L310.9 366.37 L311.3 367.22 L311.7 367.09 L312.1 367.48 L312.5 367.87 L312.9 368.05 L313.3 368.79 L313.7 368.5 L314.1 369.02 L314.5 369.17 L314.9 369.52 L315.3 369.41 L315.7 370.24 L316.1 370.1 L316.5 370.36 L316.9 370.38 L317.3 370.63 L317.7 371.08 L318.1 371.34 L318.5 371.46 L318.9 371.7 L319.3 371.73 L319.7 371.71 L320.1 371.96 L320.5 371.99 L320.9 371.91" stroke="#111111" stroke-width="1.9" fill="none"/>
<line x1="186.2" y1="382.5" x2="193.9" y2="365.5" stroke="#111111" stroke-width="1"/>
<line x1="189" y1="382.5" x2="196.6" y2="365.5" stroke="#111111" stroke-width="1"/>
<line x1="257.6" y1="382.3" x2="265.3" y2="365.3" stroke="#111111" stroke-width="1"/>
<line x1="260.4" y1="382.3" x2="268" y2="365.3" stroke="#111111" stroke-width="1"/>
<text x="188.6" y="359.2" font-size="13.5">2</text>
<line x1="197.4" y1="351.2" x2="198.6" y2="348.4" stroke="#111111" stroke-width="0.9"/>
<path d="M134.4,384.7 L137.2,393.7 L134.4,392.1 L131.6,393.7 Z" stroke="none" stroke-width="0" fill="#111111"/>
<path d="M207.5,384.7 L210.3,393.7 L207.5,392.1 L204.7,393.7 Z" stroke="none" stroke-width="0" fill="#111111"/>
<path d="M276.8,384.7 L279.6,393.7 L276.8,392.1 L274,393.7 Z" stroke="none" stroke-width="0" fill="#111111"/>
<line x1="378.4" y1="371.4" x2="411.4" y2="371.4" stroke="#333" stroke-width="1" stroke-dasharray="2.6 2.2"/>
<path d="M364.4 371.3 L366.5 370.8 L367.3 370.9 L367.7 375.8 L368.1 370.6 L368.2 370.62 L368.7 370.74 L369.2 370.38 L369.7 370.16 L370.2 370.44 L370.7 370.75 L371.2 370.07 L371.7 370.06 L372.2 370 L372.7 370.36 L373.2 369.4 L373.7 370.01 L374.2 370.22 L374.7 369.57 L375.2 370.22 L375.7 369.89 L376.2 369.52 L376.7 369.7 L377.2 369.13 L377.7 369.38 L378.4 368.4 L379.8 368.3 L380.1 371.5 L380.4 368.2 L380.6 368.75 L381.1 367.84 L381.6 368.57 L382.1 367.9 L382.6 368.13 L383.1 367.75 L383.6 366.98 L384.1 367.4 L384.6 367.54 L385.1 367.05 L385.6 366.91 L386.1 367.35 L386.6 366.96 L387.1 366.57 L387.6 366.8 L388.1 367.19 L388.6 366.71 L389.1 367.06 L389.6 367.17 L390.1 366.65 L390.6 366.23 L391.1 366.11 L391.6 366.43 L392.1 366.64 L392.6 366.39 L393.1 366.41 L393.6 366.05 L394.1 366.21 L394.6 365.92 L395.1 365.9 L395.6 365.55 L396.1 365.41 L396.6 365.68 L397.1 365.44 L397.6 365.43 L398.1 365.86 L398.6 365.58 L399.1 366.43 L399.6 365.78 L400.1 365.26 L400.6 365.64 L401.1 365.46 L401.6 365.1 L402.1 365.59 L402.6 364.98 L403.1 364.25 L403.6 365.36 L404.1 364.9 L404.6 365.48 L405.1 364.8 L405.6 364.6 L406.1 365.38 L406.6 364.55 L407.1 364.89 L407.6 365.23 L408.1 364.79 L408.6 364.69 L409.1 364.71 L409.6 364.89 L410.1 364.36 L410.6 364.75 L411.1 364.71" stroke="#d8302a" stroke-width="2.6" fill="none"/>
<path d="M435.7 372.6 L437.8 372.4 L438.4 377.3 L439 372.6 L439.5 372.9 L440 372.05 L440.5 371.84 L441 372.29 L441.5 371.91 L442 372.07 L442.5 371.99 L443 372.26 L443.5 371.68 L444 371.81 L444.5 371.04 L445 371.5 L445.5 372.2 L446 371.5 L446.5 371.47 L447 371.28 L447.5 371.8 L448 371.65 L448.5 371.21 L449 371.74 L449.5 371.6 L450 371.72 L450.5 371.28 L451 371.97 L451.5 371.55 L452 371.37 L452.5 371.23 L453 371.3 L453.5 371.61 L454 371.25 L454.5 371.64 L455 371.47 L455.5 371.69 L456 371.51 L456.5 371.23 L457 370.66 L457.5 371.31 L458 371.44 L458.5 371.24 L459 371.35 L459.5 371.03 L460 371.04 L460.5 370.86 L461 371.54 L461.5 371.17 L462 370.96 L462.5 370.7 L463 371.05 L463.5 371.52 L464 371.21 L464.5 370.85 L465 371.48 L465.5 371.48 L466 371.33 L466.5 371.27 L467 371.37 L467.5 371.18 L468 371.24 L468.5 370.77 L469 371.45 L469.5 371.06 L470 371.59 L470.5 370.36 L471 371.18 L471.5 371.26 L472 370.86 L472.5 371.09 L473 371.17 L473.5 371.12 L474 370.78 L474.5 370.89 L475 371.24 L475.5 371.31 L476 370.95 L476.5 370.94 L477 370.98 L477.5 371.22 L478 370.59 L478.5 370.51 L479 370.94 L479.5 370.57 L480 370.72 L480.5 370.92 L481 371.03 L481.5 370.56 L482 371.12 L482.5 370.35 L483 371.04 L483.5 370.4" stroke="#d8302a" stroke-width="2.6" fill="none"/>
<path d="M508.6 371.2 L510.4 371.2 L511 376.5 L511.6 371.8 L512 371.12 L512.5 371.64 L513 371.27 L513.5 371.11 L514 371.17 L514.5 371.39 L515 371.19 L515.5 371.16 L516 371.44 L516.5 370.87 L517 370.9 L517.5 370.85 L518 371.32 L518.5 371.23 L519 371.29 L519.5 370.86 L520 370.79 L520.5 371.06 L521 370.66 L521.5 371 L522 370.94 L522.5 370.49 L523 370.64 L523.5 370.61 L524 371.14 L524.5 371.37 L525 370.54 L525.5 370.55 L526 369.84 L526.5 370.57 L527 370.49 L527.5 370.15 L528 370.69 L528.5 369.96 L529 370.35 L529.5 370.44 L530 370.01 L530.5 370.62 L531 370.67 L531.5 369.92 L532 369.9 L532.5 370.49 L533 370.29 L533.5 369.92 L534 370.18 L534.5 370.22 L535 370.2 L535.5 370.48 L536 370.34 L536.5 370.74 L537 370.61 L537.5 370.4 L538 370.51 L538.5 370.57 L539 370.38 L539.5 369.79 L540 370.41 L540.5 370.16 L541 370.62 L541.5 370.15 L542 370.27 L542.5 370.21 L543 370.61 L543.5 370.15 L544 370.01 L544.5 370.18 L545 369.95 L545.5 370.12 L546 370.06 L546.5 370.14 L547 370.63 L547.5 369.93 L548 370.06 L548.5 369.98 L549 370.24 L549.5 369.68 L550 369.82 L550.5 370.01 L551 370.18 L551.5 370 L552 369.86 L552.5 369.75 L553 370.16 L553.5 370.43 L554 370.09 L554.5 370.05 L555 370.12" stroke="#d8302a" stroke-width="2.6" fill="none"/>
<line x1="419.4" y1="380.5" x2="427.1" y2="363.5" stroke="#111111" stroke-width="1"/>
<line x1="422.2" y1="380.5" x2="429.8" y2="363.5" stroke="#111111" stroke-width="1"/>
<line x1="491.5" y1="380.5" x2="499.2" y2="363.5" stroke="#111111" stroke-width="1"/>
<line x1="494.3" y1="380.5" x2="501.9" y2="363.5" stroke="#111111" stroke-width="1"/>
<path d="M366.4,384.7 L369.2,393.7 L366.4,392.1 L363.6,393.7 Z" stroke="none" stroke-width="0" fill="#111111"/>
<path d="M437.9,384.7 L440.7,393.7 L437.9,392.1 L435.1,393.7 Z" stroke="none" stroke-width="0" fill="#111111"/>
<path d="M510.6,384.7 L513.4,393.7 L510.6,392.1 L507.8,393.7 Z" stroke="none" stroke-width="0" fill="#111111"/>
<path d="M531 280.4 L554.5 280.4 L554.5 262.9" stroke="#111111" stroke-width="1.3" fill="none"/>
<text x="525" y="276.2">20%</text>
<text x="526" y="295.7">10 s</text>
<text x="574.6" y="223.4" font-size="16" font-weight="bold">e</text>
<text x="621.6" y="231.3">Summary</text>
<line x1="632.6" y1="256.6" x2="632.6" y2="371.9" stroke="#111111" stroke-width="1.3"/>
<line x1="624" y1="371.3" x2="632.6" y2="371.3" stroke="#111111" stroke-width="1.3"/>
<text x="618.7" y="375.7" text-anchor="end">0</text>
<line x1="624" y1="342.78" x2="632.6" y2="342.78" stroke="#111111" stroke-width="1.3"/>
<text x="618.7" y="347.18" text-anchor="end">50</text>
<line x1="624" y1="314.25" x2="632.6" y2="314.25" stroke="#111111" stroke-width="1.3"/>
<text x="618.7" y="318.65" text-anchor="end">100</text>
<line x1="624" y1="285.73" x2="632.6" y2="285.73" stroke="#111111" stroke-width="1.3"/>
<text x="618.7" y="290.12" text-anchor="end">150</text>
<line x1="624" y1="257.2" x2="632.6" y2="257.2" stroke="#111111" stroke-width="1.3"/>
<text x="618.7" y="261.6" text-anchor="end">200</text>
<text transform="translate(585.4 313.3) rotate(-90)" text-anchor="middle">&#916;F/F [%]</text>
<line x1="642.2" y1="265.3" x2="651.2" y2="265.3" stroke="#8a8a8a" stroke-opacity="0.75" stroke-width="1.1"/>
<line x1="642.2" y1="266.3" x2="651.2" y2="266.3" stroke="#8a8a8a" stroke-opacity="0.75" stroke-width="1.1"/>
<line x1="642.2" y1="267.3" x2="651.2" y2="267.3" stroke="#8a8a8a" stroke-opacity="0.75" stroke-width="1.1"/>
<line x1="642.2" y1="269.7" x2="651.2" y2="269.7" stroke="#8a8a8a" stroke-opacity="0.75" stroke-width="1.1"/>
<line x1="642.2" y1="272.2" x2="651.2" y2="272.2" stroke="#8a8a8a" stroke-opacity="0.75" stroke-width="1.1"/>
<line x1="642.2" y1="277.4" x2="651.2" y2="277.4" stroke="#8a8a8a" stroke-opacity="0.75" stroke-width="1.1"/>
<line x1="642.2" y1="281.5" x2="651.2" y2="281.5" stroke="#8a8a8a" stroke-opacity="0.75" stroke-width="1.1"/>
<line x1="642.2" y1="282.5" x2="651.2" y2="282.5" stroke="#8a8a8a" stroke-opacity="0.75" stroke-width="1.1"/>
<line x1="642.2" y1="283.3" x2="651.2" y2="283.3" stroke="#8a8a8a" stroke-opacity="0.75" stroke-width="1.1"/>
<line x1="642.2" y1="284.5" x2="651.2" y2="284.5" stroke="#8a8a8a" stroke-opacity="0.75" stroke-width="1.1"/>
<line x1="642.2" y1="286.6" x2="651.2" y2="286.6" stroke="#8a8a8a" stroke-opacity="0.75" stroke-width="1.1"/>
<line x1="642.2" y1="289.2" x2="651.2" y2="289.2" stroke="#8a8a8a" stroke-opacity="0.75" stroke-width="1.1"/>
<line x1="642.2" y1="290.3" x2="651.2" y2="290.3" stroke="#8a8a8a" stroke-opacity="0.75" stroke-width="1.1"/>
<line x1="642.2" y1="291.3" x2="651.2" y2="291.3" stroke="#8a8a8a" stroke-opacity="0.75" stroke-width="1.1"/>
<line x1="642.2" y1="292.5" x2="651.2" y2="292.5" stroke="#8a8a8a" stroke-opacity="0.75" stroke-width="1.1"/>
<line x1="642.2" y1="295.3" x2="651.2" y2="295.3" stroke="#8a8a8a" stroke-opacity="0.75" stroke-width="1.1"/>
<line x1="642.2" y1="298" x2="651.2" y2="298" stroke="#8a8a8a" stroke-opacity="0.75" stroke-width="1.1"/>
<line x1="642.2" y1="299" x2="651.2" y2="299" stroke="#8a8a8a" stroke-opacity="0.75" stroke-width="1.1"/>
<line x1="642.2" y1="300" x2="651.2" y2="300" stroke="#8a8a8a" stroke-opacity="0.75" stroke-width="1.1"/>
<line x1="642.2" y1="301" x2="651.2" y2="301" stroke="#8a8a8a" stroke-opacity="0.75" stroke-width="1.1"/>
<line x1="642.2" y1="302.3" x2="651.2" y2="302.3" stroke="#8a8a8a" stroke-opacity="0.75" stroke-width="1.1"/>
<line x1="642.2" y1="303.3" x2="651.2" y2="303.3" stroke="#8a8a8a" stroke-opacity="0.75" stroke-width="1.1"/>
<line x1="642.2" y1="304.5" x2="651.2" y2="304.5" stroke="#8a8a8a" stroke-opacity="0.75" stroke-width="1.1"/>
<line x1="642.2" y1="307.5" x2="651.2" y2="307.5" stroke="#8a8a8a" stroke-opacity="0.75" stroke-width="1.1"/>
<line x1="642.2" y1="317.8" x2="651.2" y2="317.8" stroke="#8a8a8a" stroke-opacity="0.75" stroke-width="1.1"/>
<line x1="642.2" y1="321.7" x2="651.2" y2="321.7" stroke="#8a8a8a" stroke-opacity="0.75" stroke-width="1.1"/>
<line x1="642.2" y1="324.8" x2="651.2" y2="324.8" stroke="#8a8a8a" stroke-opacity="0.75" stroke-width="1.1"/>
<line x1="642.2" y1="326.1" x2="651.2" y2="326.1" stroke="#8a8a8a" stroke-opacity="0.75" stroke-width="1.1"/>
<line x1="642.2" y1="330.5" x2="651.2" y2="330.5" stroke="#8a8a8a" stroke-opacity="0.75" stroke-width="1.1"/>
<line x1="642.2" y1="331.8" x2="651.2" y2="331.8" stroke="#8a8a8a" stroke-opacity="0.75" stroke-width="1.1"/>
<line x1="642.2" y1="333" x2="651.2" y2="333" stroke="#8a8a8a" stroke-opacity="0.75" stroke-width="1.1"/>
<line x1="642.2" y1="336.6" x2="651.2" y2="336.6" stroke="#8a8a8a" stroke-opacity="0.75" stroke-width="1.1"/>
<line x1="642.2" y1="341" x2="651.2" y2="341" stroke="#8a8a8a" stroke-opacity="0.75" stroke-width="1.1"/>
<line x1="642.2" y1="342.4" x2="651.2" y2="342.4" stroke="#8a8a8a" stroke-opacity="0.75" stroke-width="1.1"/>
<line x1="642.2" y1="346.2" x2="651.2" y2="346.2" stroke="#8a8a8a" stroke-opacity="0.75" stroke-width="1.1"/>
<line x1="642.2" y1="349" x2="651.2" y2="349" stroke="#8a8a8a" stroke-opacity="0.75" stroke-width="1.1"/>
<line x1="642.2" y1="353" x2="651.2" y2="353" stroke="#8a8a8a" stroke-opacity="0.75" stroke-width="1.1"/>
<line x1="642.2" y1="356.6" x2="651.2" y2="356.6" stroke="#8a8a8a" stroke-opacity="0.75" stroke-width="1.1"/>
<line x1="642.2" y1="357.8" x2="651.2" y2="357.8" stroke="#8a8a8a" stroke-opacity="0.75" stroke-width="1.1"/>
<line x1="642.2" y1="363.1" x2="651.2" y2="363.1" stroke="#8a8a8a" stroke-opacity="0.75" stroke-width="1.1"/>
<line x1="642.2" y1="331.8" x2="651.2" y2="331.8" stroke="#444" stroke-width="1.1"/>
<line x1="642.2" y1="357.3" x2="651.2" y2="357.3" stroke="#444" stroke-width="1.1"/>
<line x1="642.2" y1="299.6" x2="651.2" y2="299.6" stroke="#555" stroke-width="1.1"/>
<line x1="642.2" y1="300.6" x2="651.2" y2="300.6" stroke="#555" stroke-width="1.1"/>
<line x1="642.2" y1="283.3" x2="651.2" y2="283.3" stroke="#666" stroke-width="1.1"/>
<line x1="642.2" y1="269.7" x2="651.2" y2="269.7" stroke="#666" stroke-width="1.1"/>
<line x1="642.2" y1="291.5" x2="651.2" y2="291.5" stroke="#666" stroke-width="1.1"/>
<line x1="665.8" y1="364.6" x2="674.4" y2="364.6" stroke="#222" stroke-width="1.1"/>
<line x1="665.8" y1="365.6" x2="674.4" y2="365.6" stroke="#222" stroke-width="1.1"/>
<line x1="665.8" y1="366.5" x2="674.4" y2="366.5" stroke="#222" stroke-width="1.1"/>
<rect x="639.3" y="314.4" width="15.3" height="56.9" stroke="#111111" stroke-width="1.4" fill="none"/>
<line x1="646.9" y1="314.4" x2="646.9" y2="310.1" stroke="#111111" stroke-width="1.3"/>
<line x1="643" y1="310.1" x2="650.8" y2="310.1" stroke="#111111" stroke-width="1.3"/>
<line x1="665.8" y1="357.7" x2="674.4" y2="357.7" stroke="#777" stroke-opacity="0.7" stroke-width="1.1"/>
<line x1="665.8" y1="359.5" x2="674.4" y2="359.5" stroke="#777" stroke-opacity="0.7" stroke-width="1.1"/>
<line x1="665.8" y1="361" x2="674.4" y2="361" stroke="#777" stroke-opacity="0.7" stroke-width="1.1"/>
<line x1="665.8" y1="362.5" x2="674.4" y2="362.5" stroke="#777" stroke-opacity="0.7" stroke-width="1.1"/>
<line x1="665.8" y1="363.8" x2="674.4" y2="363.8" stroke="#777" stroke-opacity="0.7" stroke-width="1.1"/>
<line x1="665.8" y1="364.8" x2="674.4" y2="364.8" stroke="#777" stroke-opacity="0.7" stroke-width="1.1"/>
<line x1="665.8" y1="365.8" x2="674.4" y2="365.8" stroke="#777" stroke-opacity="0.7" stroke-width="1.1"/>
<line x1="665.8" y1="366.8" x2="674.4" y2="366.8" stroke="#777" stroke-opacity="0.7" stroke-width="1.1"/>
<rect x="662" y="367.4" width="15.9" height="3.9" stroke="#d8302a" stroke-width="1.3" fill="none"/>
<path d="M662.95 335.3 L663.77 337.07 L665.71 337.3 L664.27 338.63 L664.65 340.55 L662.95 339.59 L661.25 340.55 L661.63 338.63 L660.19 337.3 L662.13 337.07 Z" fill="#111111"/>
<path d="M669.2 335.3 L670.02 337.07 L671.96 337.3 L670.52 338.63 L670.9 340.55 L669.2 339.59 L667.5 340.55 L667.88 338.63 L666.44 337.3 L668.38 337.07 Z" fill="#111111"/>
<path d="M675.45 335.3 L676.27 337.07 L678.21 337.3 L676.77 338.63 L677.15 340.55 L675.45 339.59 L673.75 340.55 L674.13 338.63 L672.69 337.3 L674.63 337.07 Z" fill="#111111"/>
<text x="0.3" y="433.4" font-size="16" font-weight="bold">f</text>
<text x="23.7" y="441.2">IP<tspan font-size="9.5" dy="3">3</tspan><tspan dy="-3"> receptor stimulation</tspan></text>
<text x="134.7" y="460.3">Wild type</text>
<text x="241.3" y="460.6" fill="#d8302a">Orai2<tspan font-size="10.5" dy="-2.4">&#8722;/&#8722;</tspan></text>
<path d="M37.4 472.2 L45.5 480.1 L53.7 473.5" stroke="#111111" stroke-width="1.5" fill="none"/>
<line x1="45.5" y1="480.1" x2="45.5" y2="557.5" stroke="#111111" stroke-width="1.5"/>
<path d="M45.8,556.4 L61.6,585.9 L30.5,585.9 Z" stroke="#111111" stroke-width="1.7" fill="#9cc60c" stroke-linejoin="miter"/>
<path d="M52.6,568.8 L68.9,560.5 L69.3,567.6 L54.4,571.8 Z" stroke="none" stroke-width="0" fill="#9cc60c"/>
<line x1="52.6" y1="568.6" x2="71.6" y2="558.7" stroke="#111111" stroke-width="1.5"/>
<line x1="54.4" y1="571.6" x2="74.6" y2="567.1" stroke="#111111" stroke-width="1.5"/>
<line x1="69.1" y1="560.4" x2="69.1" y2="567.8" stroke="#111111" stroke-width="1.4"/>
<path d="M65.7 565.1 L89.4 557.6 L91.6 567.1" stroke="#111111" stroke-width="1.4" fill="none"/>
<line x1="85" y1="569.3" x2="98.5" y2="565.6" stroke="#111111" stroke-width="1.3"/>
<line x1="86.9" y1="571.1" x2="97.8" y2="568.5" stroke="#111111" stroke-width="1.3"/>
<line x1="91.2" y1="572.9" x2="95.3" y2="571.8" stroke="#111111" stroke-width="1.3"/>
<line x1="14.1" y1="552.7" x2="31.2" y2="563" stroke="#111111" stroke-width="1.5"/>
<line x1="10.7" y1="560.8" x2="30.2" y2="565.4" stroke="#111111" stroke-width="1.5"/>
<circle cx="30.9" cy="564.1" r="1.5" fill="#fff" stroke="#111111" stroke-width="1.2"/>
<line x1="5.1" y1="564.9" x2="30.3" y2="572.3" stroke="#111111" stroke-width="1.4"/>
<line x1="5.1" y1="566.9" x2="29.5" y2="574.3" stroke="#111111" stroke-width="1.4"/>
<circle cx="29.8" cy="573.2" r="1.2" fill="#fff" stroke="#111111" stroke-width="1.1"/>
<path d="M8.3 577.1 L15.99 580.29 L14.1 575.36 L20.57 578.13" stroke="#9c1cb4" stroke-width="2.3" fill="none" stroke-linejoin="miter" stroke-linecap="round"/>
<path d="M27.6,580.6 L21.39,574.19 L20.4,578 L18.58,581.96 Z" stroke="none" stroke-width="0" fill="#9c1cb4"/>
<text x="0.6" y="542.2">DHPG</text>
<text x="6.3" y="595.1">UV</text>
<text x="57" y="532.1">caged IP<tspan font-size="9.5" dy="3">3</tspan></text>
<text x="56" y="551.1" fill="#9cc60c">OGB-1</text>
<text x="96.8" y="592">&#916;F/F</text>
<line x1="140" y1="590.6" x2="155" y2="590.6" stroke="#8a8a8a" stroke-width="1.2" stroke-dasharray="2.6 2.2"/>
<path d="M130.4,587.3 L132.5,589.2 L136.3,590.5 L137.6,591.5 L137.4,597.2 L136.3,597 L134,593.8 L131.2,592 L130.2,590 Z" stroke="none" stroke-width="0" fill="#111111"/>
<path d="M130.2 588.2 L132 590.5 L133.5 592 L135.3 593.2 L136.6 595.7 L137.2 594.6 L137.35 564.21 L137.5 539.2 L137.65 516.91 L137.8 503.29 L137.95 499.41 L138.1 496.56 L138.25 494.51 L138.4 493.01 L138.55 491.85 L138.7 490.82 L138.85 489.96 L139 489.27 L139.15 488.75 L139.3 488.36 L139.45 488.04 L139.6 487.9 L140 488.55 L140.4 489.95 L140.8 492.3 L141.2 495.79 L141.6 499.66 L142 504.04 L142.4 509.41 L142.8 514.99 L143.2 520.61 L143.6 525.62 L144 529.95 L144.4 534.97 L144.8 539.55 L145.2 543.44 L145.6 547.57 L146 551.15 L146.4 554.36 L146.8 556.57 L147.2 559.66 L147.6 561.55 L148 564.05 L148.4 565.81 L148.8 567.59 L149.2 569.37 L149.6 571.19 L150 572.34 L150.4 573.84 L150.8 575.16 L151.2 576.21 L151.6 578.07 L152 579.12 L152.4 580.12 L152.8 581.41 L153.2 581.96 L153.6 583.01 L154 584.14 L154.4 584.66" stroke="#111111" stroke-width="1.9" fill="none"/>
<line x1="193.5" y1="590.6" x2="211" y2="590.6" stroke="#555" stroke-width="1.2" stroke-dasharray="2.6 2.2"/>
<path d="M186.7,588.6 L189,589.3 L192.5,589.3 L193.2,590.5 L193,592.2 L191,592.8 L189.5,593.6 L188.5,592.8 L186.8,592.3 Z" stroke="none" stroke-width="0" fill="#111111"/>
<path d="M187.1 590.2 L188.5 591.6 L190.5 591.2 L192.2 591.1 L192.3 591.06 L192.45 560.41 L192.6 534.5 L192.75 510.82 L192.9 495.3 L193.05 489.49 L193.2 485.49 L193.35 482.98 L193.5 481.51 L193.65 480.44 L193.8 479.68 L193.95 479.1 L194.1 478.62 L194.2 478.5 L194.6 480.85 L195 486.22 L195.4 495.98 L195.8 504.28 L196.2 511.78 L196.6 518.24 L197 523.91 L197.4 528.95 L197.8 533.39 L198.2 536.72 L198.6 540.07 L199 543.24 L199.4 545.7 L199.8 548.48 L200.2 550.99 L200.6 553.21 L201 555.41 L201.4 557.33 L201.8 559.57 L202.2 561.3 L202.6 563.46 L203 565.39 L203.4 566.28 L203.8 567.4 L204.2 569.01 L204.6 570.27 L205 571.36 L205.4 572.21 L205.8 572.61 L206.2 573.33 L206.6 574.47 L207 574.77 L207.4 576.05 L207.8 576.69 L208.2 577.82 L208.6 578.76 L209 579.75 L209.4 580.76 L209.8 581.42" stroke="#111111" stroke-width="1.9" fill="none"/>
<line x1="167.4" y1="599.1" x2="175.1" y2="582.1" stroke="#111111" stroke-width="1"/>
<line x1="170.2" y1="599.1" x2="177.8" y2="582.1" stroke="#111111" stroke-width="1"/>
<text x="169.8" y="576.1" font-size="13.5">2</text>
<line x1="178.2" y1="568.4" x2="179.4" y2="565.8" stroke="#111111" stroke-width="0.9"/>
<path d="M138,604.3 L140.8,613.3 L138,611.7 L135.2,613.3 Z" stroke="none" stroke-width="0" fill="#111111"/>
<path d="M182.1 617.4 L187.18 610.59 L181.83 611.23 L186.2 605.53" stroke="#9c1cb4" stroke-width="2.3" fill="none" stroke-linejoin="miter" stroke-linecap="round"/>
<path d="M190.4,599.2 L182.51,603.73 L186.02,605.67 L189.48,608.45 Z" stroke="none" stroke-width="0" fill="#9c1cb4"/>
<text x="118.8" y="631.3">DHPG</text>
<text x="175.3" y="631.3">IP<tspan font-size="9.5" dy="3">3</tspan></text>
<line x1="252" y1="590.8" x2="265" y2="590.8" stroke="#444" stroke-width="1" stroke-dasharray="2.6 2.2"/>
<path d="M239.6 589.8 L244.6 590.2 L245.5 596.2 L246.4 590 L246.6 589.92 L247.1 589.75 L247.6 589.81 L248.1 590.12 L248.6 589.46 L249.1 589.23 L249.6 589.16 L250.1 589.27 L250.6 589.64 L251.1 588.96 L251.6 589.69 L252.1 589.28 L252.6 589.02 L253.1 588.52 L253.6 589.09 L254.1 589.21 L254.6 588.17 L255.1 589.3 L255.6 589.42 L256.1 588.84 L256.6 588.85 L257.1 589.56 L257.6 589.03 L258.1 588.12 L258.6 588.41 L259.1 588.3 L259.6 588.25 L260.1 587.3 L260.6 588.49 L261.1 587.88 L261.6 588.14 L262.1 587.96 L262.6 588.31 L263.1 587.79 L263.6 587.53" stroke="#d8302a" stroke-width="3.3" fill="none"/>
<line x1="298" y1="590.4" x2="317.5" y2="590.4" stroke="#444" stroke-width="1" stroke-dasharray="2.6 2.2"/>
<path d="M293.5 591.1 L297.5 591 L298 590.86 L298.6 590.69 L299.2 590.22 L299.8 590.18 L300.4 589.82 L301 589.52 L301.6 589.57 L302.2 589.1 L302.8 589.14 L303.4 588.8 L304 588.76 L304.6 588.42 L305.2 588.33 L305.8 588.44 L306.4 588.21 L307 588.09 L307.6 587.93 L308.2 587.94 L308.8 587.63 L309.4 587.58 L310 587.61 L310.6 587.46 L311.2 587.41 L311.8 587.42 L312.4 587.35 L313 587.29 L313.6 587.46 L314.2 587.33 L314.8 587.31 L315.4 587.12 L316 587.02 L316.6 586.87" stroke="#d8302a" stroke-width="1.8" fill="none"/>
<line x1="273.8" y1="598.7" x2="281.5" y2="581.7" stroke="#111111" stroke-width="1"/>
<line x1="276.6" y1="598.7" x2="284.2" y2="581.7" stroke="#111111" stroke-width="1"/>
<path d="M244.7,604.3 L247.5,613.3 L244.7,611.7 L241.9,613.3 Z" stroke="none" stroke-width="0" fill="#111111"/>
<path d="M287.3 617.2 L292.64 610.62 L287.28 611.05 L291.86 605.53" stroke="#9c1cb4" stroke-width="2.3" fill="none" stroke-linejoin="miter" stroke-linecap="round"/>
<path d="M296.3,599.4 L288.25,603.6 L291.68,605.67 L295.01,608.58 Z" stroke="none" stroke-width="0" fill="#9c1cb4"/>
<text x="227.5" y="631.3">DHPG</text>
<text x="281.4" y="631.3">IP<tspan font-size="9.5" dy="3">3</tspan></text>
<path d="M293.5 537.2 L317.5 537.2 L317.5 516.4" stroke="#111111" stroke-width="1.3" fill="none"/>
<text x="288.6" y="530.6">20%</text>
<text x="290.8" y="550.8">10 s</text>
<text x="337.2" y="434.8" font-size="16" font-weight="bold">g</text>
<text x="363.6" y="440.3">Summary</text>
<text x="380.8" y="463.7">IP<tspan font-size="9.5" dy="3">3</tspan><tspan dy="-3"> vs. DHPG, Wild type</tspan></text>
<line x1="395.7" y1="476.9" x2="395.7" y2="591.6" stroke="#111111" stroke-width="1.3"/>
<line x1="387.7" y1="591" x2="395.7" y2="591" stroke="#111111" stroke-width="1.3"/>
<text x="381.7" y="596.7" text-anchor="end">20</text>
<line x1="387.7" y1="572.08" x2="395.7" y2="572.08" stroke="#111111" stroke-width="1.3"/>
<text x="381.7" y="577.78" text-anchor="end">40</text>
<line x1="387.7" y1="553.17" x2="395.7" y2="553.17" stroke="#111111" stroke-width="1.3"/>
<text x="381.7" y="558.87" text-anchor="end">60</text>
<line x1="387.7" y1="534.25" x2="395.7" y2="534.25" stroke="#111111" stroke-width="1.3"/>
<text x="381.7" y="539.95" text-anchor="end">80</text>
<line x1="387.7" y1="515.34" x2="395.7" y2="515.34" stroke="#111111" stroke-width="1.3"/>
<text x="381.7" y="521.04" text-anchor="end">100</text>
<line x1="387.7" y1="496.42" x2="395.7" y2="496.42" stroke="#111111" stroke-width="1.3"/>
<text x="381.7" y="502.12" text-anchor="end">120</text>
<line x1="387.7" y1="477.5" x2="395.7" y2="477.5" stroke="#111111" stroke-width="1.3"/>
<text x="381.7" y="483.2" text-anchor="end">140</text>
<line x1="395.7" y1="591" x2="517.35" y2="591" stroke="#111111" stroke-width="1.3"/>
<line x1="395.7" y1="591" x2="395.7" y2="599" stroke="#111111" stroke-width="1.3"/>
<text x="395.7" y="614.3" text-anchor="middle">20</text>
<line x1="419.91" y1="591" x2="419.91" y2="599" stroke="#111111" stroke-width="1.3"/>
<text x="419.91" y="614.3" text-anchor="middle">40</text>
<line x1="444.12" y1="591" x2="444.12" y2="599" stroke="#111111" stroke-width="1.3"/>
<text x="444.12" y="614.3" text-anchor="middle">60</text>
<line x1="468.33" y1="591" x2="468.33" y2="599" stroke="#111111" stroke-width="1.3"/>
<text x="468.33" y="614.3" text-anchor="middle">80</text>
<line x1="492.54" y1="591" x2="492.54" y2="599" stroke="#111111" stroke-width="1.3"/>
<text x="492.54" y="614.3" text-anchor="middle">100</text>
<line x1="516.75" y1="591" x2="516.75" y2="599" stroke="#111111" stroke-width="1.3"/>
<text x="516.75" y="614.3" text-anchor="middle">120</text>
<text transform="translate(350.4 537.5) rotate(-90)" text-anchor="middle">&#916;F/F caged<tspan font-size="10" dy="2">(IP<tspan font-size="7.5" dy="2">3</tspan><tspan dy="-2">)</tspan></tspan><tspan dy="-2" dx="1.3"> [%]</tspan></text>
<text x="408.2" y="633.4">&#916;F/F<tspan font-size="10" dy="4.5">(DHPG)</tspan><tspan dy="-4.5" dx="6">[%]</tspan></text>
<line x1="396.6" y1="590" x2="516.9" y2="481.8" stroke="#444" stroke-width="0.9"/>
<circle cx="401.3" cy="586.5" r="3.6" fill="none" stroke="#7a7a7a" stroke-width="1.4"/>
<circle cx="433.6" cy="555" r="3.6" fill="none" stroke="#7a7a7a" stroke-width="1.4"/>
<circle cx="434.7" cy="534" r="3.6" fill="none" stroke="#7a7a7a" stroke-width="1.4"/>
<circle cx="446.7" cy="543.7" r="3.6" fill="none" stroke="#7a7a7a" stroke-width="1.4"/>
<circle cx="456.5" cy="521.6" r="3.6" fill="none" stroke="#7a7a7a" stroke-width="1.4"/>
<circle cx="471.1" cy="523.8" r="3.6" fill="none" stroke="#7a7a7a" stroke-width="1.4"/>
<circle cx="471.1" cy="525.7" r="3.6" fill="none" stroke="#7a7a7a" stroke-width="1.4"/>
<circle cx="491.7" cy="515.2" r="3.6" fill="none" stroke="#7a7a7a" stroke-width="1.4"/>
<circle cx="504.9" cy="499" r="3.6" fill="none" stroke="#7a7a7a" stroke-width="1.4"/>
<text x="401.1" y="489.5">y = 0.95x + 13.5</text>
<text x="404.7" y="501.6"><tspan font-style="italic">r</tspan> = 0.9</text>
<text x="581.5" y="464.7">DHPG/IP<tspan font-size="9.5" dy="3">3</tspan><tspan dy="-3">, Orai2</tspan></text>
<line x1="590.8" y1="479.18" x2="590.8" y2="594.2" stroke="#111111" stroke-width="1.3"/>
<line x1="582.8" y1="593.6" x2="590.8" y2="593.6" stroke="#111111" stroke-width="1.3"/>
<text x="578.7" y="598" text-anchor="end">0</text>
<line x1="582.8" y1="574.63" x2="590.8" y2="574.63" stroke="#111111" stroke-width="1.3"/>
<text x="578.7" y="579.03" text-anchor="end">20</text>
<line x1="582.8" y1="555.66" x2="590.8" y2="555.66" stroke="#111111" stroke-width="1.3"/>
<text x="578.7" y="560.06" text-anchor="end">40</text>
<line x1="582.8" y1="536.69" x2="590.8" y2="536.69" stroke="#111111" stroke-width="1.3"/>
<text x="578.7" y="541.09" text-anchor="end">60</text>
<line x1="582.8" y1="517.72" x2="590.8" y2="517.72" stroke="#111111" stroke-width="1.3"/>
<text x="578.7" y="522.12" text-anchor="end">80</text>
<line x1="582.8" y1="498.75" x2="590.8" y2="498.75" stroke="#111111" stroke-width="1.3"/>
<text x="578.7" y="503.15" text-anchor="end">100</text>
<line x1="582.8" y1="479.78" x2="590.8" y2="479.78" stroke="#111111" stroke-width="1.3"/>
<text x="578.7" y="484.18" text-anchor="end">120</text>
<text transform="translate(551.3 537.7) rotate(-90)" text-anchor="middle">&#916;F/F [%]</text>
<line x1="602.3" y1="489.7" x2="611.1" y2="489.7" stroke="#b0b0b0" stroke-width="1.1"/>
<line x1="602.3" y1="500.1" x2="611.1" y2="500.1" stroke="#b0b0b0" stroke-width="1.1"/>
<line x1="602.3" y1="515.7" x2="611.1" y2="515.7" stroke="#b0b0b0" stroke-width="1.1"/>
<line x1="602.3" y1="517.4" x2="611.1" y2="517.4" stroke="#b0b0b0" stroke-width="1.1"/>
<line x1="602.3" y1="535" x2="611.1" y2="535" stroke="#b0b0b0" stroke-width="1.1"/>
<line x1="602.3" y1="544.3" x2="611.1" y2="544.3" stroke="#b0b0b0" stroke-width="1.1"/>
<line x1="602.3" y1="545.3" x2="611.1" y2="545.3" stroke="#b0b0b0" stroke-width="1.1"/>
<line x1="602.3" y1="571" x2="611.1" y2="571" stroke="#b0b0b0" stroke-width="1.1"/>
<line x1="623.3" y1="483.6" x2="632.1" y2="483.6" stroke="#b0b0b0" stroke-width="1.1"/>
<line x1="623.3" y1="499.9" x2="632.1" y2="499.9" stroke="#b0b0b0" stroke-width="1.1"/>
<line x1="623.3" y1="506.6" x2="632.1" y2="506.6" stroke="#b0b0b0" stroke-width="1.1"/>
<line x1="623.3" y1="508.2" x2="632.1" y2="508.2" stroke="#b0b0b0" stroke-width="1.1"/>
<line x1="623.3" y1="527.9" x2="632.1" y2="527.9" stroke="#b0b0b0" stroke-width="1.1"/>
<line x1="623.3" y1="539.5" x2="632.1" y2="539.5" stroke="#b0b0b0" stroke-width="1.1"/>
<line x1="623.3" y1="570.6" x2="632.1" y2="570.6" stroke="#b0b0b0" stroke-width="1.1"/>
<line x1="649.5" y1="576.6" x2="657.9" y2="576.6" stroke="#999" stroke-width="1.1"/>
<line x1="649.5" y1="577.6" x2="657.9" y2="577.6" stroke="#999" stroke-width="1.1"/>
<line x1="649.5" y1="593" x2="657.9" y2="593" stroke="#999" stroke-width="1.1"/>
<line x1="670.3" y1="567.2" x2="678.7" y2="567.2" stroke="#b0b0b0" stroke-width="1.1"/>
<line x1="670.3" y1="573.7" x2="678.7" y2="573.7" stroke="#b0b0b0" stroke-width="1.1"/>
<line x1="670.3" y1="581.4" x2="678.7" y2="581.4" stroke="#b0b0b0" stroke-width="1.1"/>
<line x1="670.3" y1="586.3" x2="678.7" y2="586.3" stroke="#b0b0b0" stroke-width="1.1"/>
<rect x="598.8" y="527.5" width="15.7" height="66.1" stroke="#111111" stroke-width="1.3" fill="none"/>
<line x1="606.7" y1="527.5" x2="606.7" y2="518.8" stroke="#111111" stroke-width="1.3"/>
<line x1="602.3" y1="518.8" x2="611.1" y2="518.8" stroke="#111111" stroke-width="1.3"/>
<rect x="619.6" y="517.8" width="15.8" height="75.8" stroke="#111111" stroke-width="1.3" fill="none"/>
<line x1="627.7" y1="517.8" x2="627.7" y2="508.6" stroke="#111111" stroke-width="1.3"/>
<line x1="623.3" y1="508.6" x2="632.1" y2="508.6" stroke="#111111" stroke-width="1.3"/>
<rect x="645.6" y="588.3" width="16" height="5.3" stroke="#d8302a" stroke-width="1.3" fill="none"/>
<line x1="653.7" y1="588.3" x2="653.7" y2="585.4" stroke="#d8302a" stroke-width="1.3"/>
<line x1="649.8" y1="585.4" x2="657.6" y2="585.4" stroke="#d8302a" stroke-width="1.3"/>
<rect x="666.3" y="584.2" width="16.3" height="9.4" stroke="#d8302a" stroke-width="1.3" fill="none"/>
<line x1="674.5" y1="584.2" x2="674.5" y2="579.8" stroke="#d8302a" stroke-width="1.3"/>
<line x1="670.3" y1="579.8" x2="678.7" y2="579.8" stroke="#d8302a" stroke-width="1.3"/>
<path d="M606.3 505 L606.3 496.8 L653.5 496.8 L653.5 505" stroke="#111111" stroke-width="1.3" fill="none"/>
<path d="M628.1 487.9 L628.1 479.8 L675.9 479.8 L675.9 487.9" stroke="#111111" stroke-width="1.3" fill="none"/>
<path d="M622.65 489.5 L623.47 491.27 L625.41 491.5 L623.97 492.83 L624.35 494.75 L622.65 493.79 L620.95 494.75 L621.33 492.83 L619.89 491.5 L621.83 491.27 Z" fill="#111111"/>
<path d="M628.9 489.5 L629.72 491.27 L631.66 491.5 L630.22 492.83 L630.6 494.75 L628.9 493.79 L627.2 494.75 L627.58 492.83 L626.14 491.5 L628.08 491.27 Z" fill="#111111"/>
<path d="M635.15 489.5 L635.97 491.27 L637.91 491.5 L636.47 492.83 L636.85 494.75 L635.15 493.79 L633.45 494.75 L633.83 492.83 L632.39 491.5 L634.33 491.27 Z" fill="#111111"/>
<path d="M644.75 472.9 L645.57 474.67 L647.51 474.9 L646.07 476.23 L646.45 478.15 L644.75 477.19 L643.05 478.15 L643.43 476.23 L641.99 474.9 L643.93 474.67 Z" fill="#111111"/>
<path d="M651 472.9 L651.82 474.67 L653.76 474.9 L652.32 476.23 L652.7 478.15 L651 477.19 L649.3 478.15 L649.68 476.23 L648.24 474.9 L650.18 474.67 Z" fill="#111111"/>
<path d="M657.25 472.9 L658.07 474.67 L660.01 474.9 L658.57 476.23 L658.95 478.15 L657.25 477.19 L655.55 478.15 L655.93 476.23 L654.49 474.9 L656.43 474.67 Z" fill="#111111"/>
<text transform="translate(612.5 607.5) rotate(-45)" text-anchor="end">DHPG</text>
<text transform="translate(634.1 607) rotate(-45)" text-anchor="end">IP<tspan font-size="9.5" dy="3">3</tspan></text>
<text transform="translate(660.4 607.5) rotate(-45)" text-anchor="end">DHPG</text>
<text transform="translate(683.6 607) rotate(-45)" text-anchor="end">IP<tspan font-size="9.5" dy="3">3</tspan></text>
</svg>
</body></html>
